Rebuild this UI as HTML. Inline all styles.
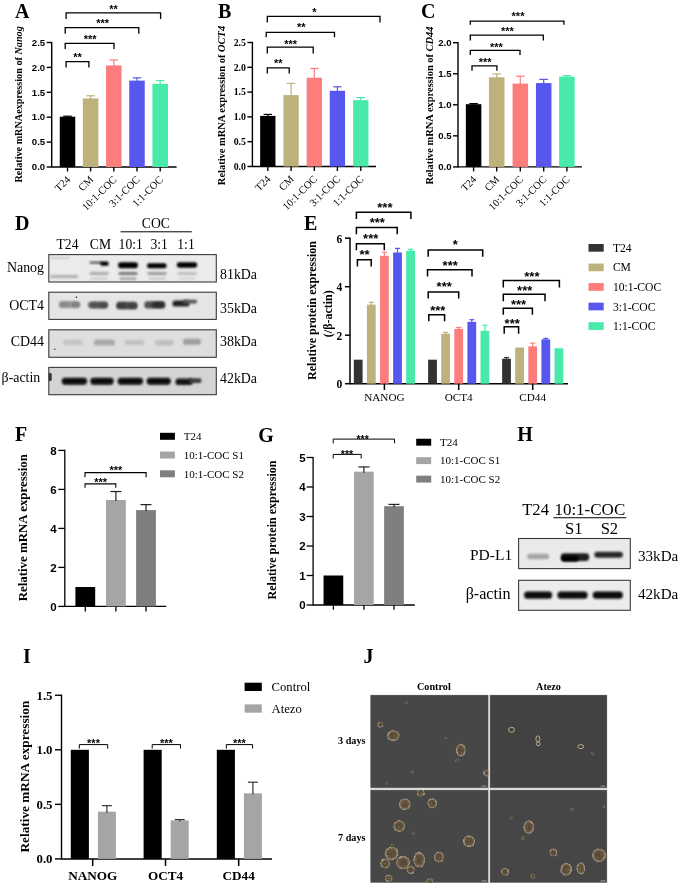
<!DOCTYPE html>
<html><head><meta charset="utf-8"><style>
html,body{margin:0;padding:0;background:#fff;}
body{width:685px;height:889px;overflow:hidden;font-family:"Liberation Sans", sans-serif;}
svg{display:block;filter:blur(0.4px);}
</style></head><body>
<svg width="685" height="889" viewBox="0 0 685 889">
<defs>
<filter id="b1" x="-50%" y="-50%" width="200%" height="200%"><feGaussianBlur stdDeviation="1.2"/></filter>
<filter id="b2" x="-50%" y="-50%" width="200%" height="200%"><feGaussianBlur stdDeviation="2"/></filter>
<filter id="b05" x="-50%" y="-50%" width="200%" height="200%"><feGaussianBlur stdDeviation="0.6"/></filter>
<filter id="b08" x="-50%" y="-50%" width="200%" height="200%"><feGaussianBlur stdDeviation="0.9"/></filter>
<radialGradient id="cell" cx="50%" cy="50%" r="50%"><stop offset="0" stop-color="#584937"/><stop offset="0.55" stop-color="#61513b"/><stop offset="0.8" stop-color="#75664f"/><stop offset="0.92" stop-color="#9a917e"/><stop offset="1" stop-color="#7a7468" stop-opacity="0.2"/></radialGradient>
</defs>
<rect x="0.00" y="0.00" width="685.00" height="889.00" fill="#fff" />
<line x1="51.70" y1="41.90" x2="51.70" y2="167.60" stroke="#000" stroke-width="1.4"/>
<line x1="46.70" y1="167.00" x2="51.70" y2="167.00" stroke="#000" stroke-width="1.4"/>
<text x="45.20" y="170.20" font-family='"Liberation Sans", sans-serif' font-size="9.6" font-weight="bold" text-anchor="end" fill="#000"  style="">0.0</text>
<line x1="46.70" y1="142.10" x2="51.70" y2="142.10" stroke="#000" stroke-width="1.4"/>
<text x="45.20" y="145.30" font-family='"Liberation Sans", sans-serif' font-size="9.6" font-weight="bold" text-anchor="end" fill="#000"  style="">0.5</text>
<line x1="46.70" y1="117.20" x2="51.70" y2="117.20" stroke="#000" stroke-width="1.4"/>
<text x="45.20" y="120.40" font-family='"Liberation Sans", sans-serif' font-size="9.6" font-weight="bold" text-anchor="end" fill="#000"  style="">1.0</text>
<line x1="46.70" y1="92.30" x2="51.70" y2="92.30" stroke="#000" stroke-width="1.4"/>
<text x="45.20" y="95.50" font-family='"Liberation Sans", sans-serif' font-size="9.6" font-weight="bold" text-anchor="end" fill="#000"  style="">1.5</text>
<line x1="46.70" y1="67.40" x2="51.70" y2="67.40" stroke="#000" stroke-width="1.4"/>
<text x="45.20" y="70.60" font-family='"Liberation Sans", sans-serif' font-size="9.6" font-weight="bold" text-anchor="end" fill="#000"  style="">2.0</text>
<line x1="46.70" y1="42.50" x2="51.70" y2="42.50" stroke="#000" stroke-width="1.4"/>
<text x="45.20" y="45.70" font-family='"Liberation Sans", sans-serif' font-size="9.6" font-weight="bold" text-anchor="end" fill="#000"  style="">2.5</text>
<line x1="51.70" y1="167.00" x2="176.60" y2="167.00" stroke="#000" stroke-width="1.4"/>
<rect x="59.75" y="116.70" width="15.50" height="50.30" fill="#000" />
<line x1="67.50" y1="116.20" x2="67.50" y2="117.70" stroke="#000" stroke-width="1.2"/>
<line x1="63.24" y1="116.20" x2="71.76" y2="116.20" stroke="#000" stroke-width="1.2"/>
<line x1="67.50" y1="167.00" x2="67.50" y2="171.50" stroke="#000" stroke-width="1.4"/>
<rect x="82.85" y="98.43" width="15.50" height="68.57" fill="#bdb27b" />
<line x1="90.60" y1="95.79" x2="90.60" y2="99.43" stroke="#bdb27b" stroke-width="1.2"/>
<line x1="86.34" y1="95.79" x2="94.86" y2="95.79" stroke="#bdb27b" stroke-width="1.2"/>
<line x1="90.60" y1="167.00" x2="90.60" y2="171.50" stroke="#000" stroke-width="1.4"/>
<rect x="106.05" y="65.41" width="15.50" height="101.59" fill="#fd7d7d" />
<line x1="113.80" y1="59.93" x2="113.80" y2="66.41" stroke="#fd7d7d" stroke-width="1.2"/>
<line x1="109.54" y1="59.93" x2="118.06" y2="59.93" stroke="#fd7d7d" stroke-width="1.2"/>
<line x1="113.80" y1="167.00" x2="113.80" y2="171.50" stroke="#000" stroke-width="1.4"/>
<rect x="129.25" y="80.60" width="15.50" height="86.40" fill="#5757f0" />
<line x1="137.00" y1="77.86" x2="137.00" y2="81.60" stroke="#5757f0" stroke-width="1.2"/>
<line x1="132.74" y1="77.86" x2="141.26" y2="77.86" stroke="#5757f0" stroke-width="1.2"/>
<line x1="137.00" y1="167.00" x2="137.00" y2="171.50" stroke="#000" stroke-width="1.4"/>
<rect x="152.45" y="83.83" width="15.50" height="83.17" fill="#47eaa9" />
<line x1="160.20" y1="80.60" x2="160.20" y2="84.83" stroke="#47eaa9" stroke-width="1.2"/>
<line x1="155.94" y1="80.60" x2="164.46" y2="80.60" stroke="#47eaa9" stroke-width="1.2"/>
<line x1="160.20" y1="167.00" x2="160.20" y2="171.50" stroke="#000" stroke-width="1.4"/>
<text x="71.00" y="180.20" font-family='"Liberation Serif", serif' font-size="10.5" text-anchor="end" transform="rotate(-45 71.00 180.20)">T24</text>
<text x="94.10" y="180.20" font-family='"Liberation Serif", serif' font-size="10.5" text-anchor="end" transform="rotate(-45 94.10 180.20)">CM</text>
<text x="117.30" y="180.20" font-family='"Liberation Serif", serif' font-size="10.5" text-anchor="end" transform="rotate(-45 117.30 180.20)">10:1-COC</text>
<text x="140.50" y="180.20" font-family='"Liberation Serif", serif' font-size="10.5" text-anchor="end" transform="rotate(-45 140.50 180.20)">3:1-COC</text>
<text x="163.70" y="180.20" font-family='"Liberation Serif", serif' font-size="10.5" text-anchor="end" transform="rotate(-45 163.70 180.20)">1:1-COC</text>
<path d="M66.10,19.00 V12.90 H160.60 V19.00" fill="none" stroke="#000" stroke-width="1.3"/>
<text x="113.60" y="12.79" font-family='"Liberation Sans", sans-serif' font-size="11" font-weight="bold" text-anchor="middle" fill="#000"  style="">**</text>
<path d="M65.20,33.80 V27.70 H138.80 V33.80" fill="none" stroke="#000" stroke-width="1.3"/>
<text x="102.60" y="27.39" font-family='"Liberation Sans", sans-serif' font-size="11" font-weight="bold" text-anchor="middle" fill="#000"  style="">***</text>
<path d="M65.20,49.00 V43.30 H114.00 V49.00" fill="none" stroke="#000" stroke-width="1.3"/>
<text x="90.20" y="42.89" font-family='"Liberation Sans", sans-serif' font-size="11" font-weight="bold" text-anchor="middle" fill="#000"  style="">***</text>
<path d="M66.10,67.40 V61.70 H88.90 V67.40" fill="none" stroke="#000" stroke-width="1.3"/>
<text x="77.50" y="61.49" font-family='"Liberation Sans", sans-serif' font-size="11" font-weight="bold" text-anchor="middle" fill="#000"  style="">**</text>
<text x="0" y="0" font-family='"Liberation Serif", serif' font-size="10.2" font-weight="bold" text-anchor="middle" transform="translate(22.10 104.40) rotate(-90)">Relative mRNAexpression of <tspan font-style="italic">Nanog</tspan></text>
<text x="15.00" y="18.00" font-family='"Liberation Serif", serif' font-size="20" font-weight="bold" text-anchor="start" fill="#000"  style="">A</text>
<line x1="252.40" y1="41.90" x2="252.40" y2="167.10" stroke="#000" stroke-width="1.4"/>
<line x1="247.40" y1="166.50" x2="252.40" y2="166.50" stroke="#000" stroke-width="1.4"/>
<text x="245.90" y="169.70" font-family='"Liberation Serif", serif' font-size="9.8" font-weight="bold" text-anchor="end" fill="#000"  style="">0.0</text>
<line x1="247.40" y1="141.70" x2="252.40" y2="141.70" stroke="#000" stroke-width="1.4"/>
<text x="245.90" y="144.90" font-family='"Liberation Serif", serif' font-size="9.8" font-weight="bold" text-anchor="end" fill="#000"  style="">0.5</text>
<line x1="247.40" y1="116.90" x2="252.40" y2="116.90" stroke="#000" stroke-width="1.4"/>
<text x="245.90" y="120.10" font-family='"Liberation Serif", serif' font-size="9.8" font-weight="bold" text-anchor="end" fill="#000"  style="">1.0</text>
<line x1="247.40" y1="92.10" x2="252.40" y2="92.10" stroke="#000" stroke-width="1.4"/>
<text x="245.90" y="95.30" font-family='"Liberation Serif", serif' font-size="9.8" font-weight="bold" text-anchor="end" fill="#000"  style="">1.5</text>
<line x1="247.40" y1="67.30" x2="252.40" y2="67.30" stroke="#000" stroke-width="1.4"/>
<text x="245.90" y="70.50" font-family='"Liberation Serif", serif' font-size="9.8" font-weight="bold" text-anchor="end" fill="#000"  style="">2.0</text>
<line x1="247.40" y1="42.50" x2="252.40" y2="42.50" stroke="#000" stroke-width="1.4"/>
<text x="245.90" y="45.70" font-family='"Liberation Serif", serif' font-size="9.8" font-weight="bold" text-anchor="end" fill="#000"  style="">2.5</text>
<line x1="252.40" y1="166.50" x2="376.00" y2="166.50" stroke="#000" stroke-width="1.4"/>
<rect x="260.15" y="115.91" width="15.30" height="50.59" fill="#000" />
<line x1="267.80" y1="114.42" x2="267.80" y2="116.91" stroke="#000" stroke-width="1.2"/>
<line x1="263.59" y1="114.42" x2="272.01" y2="114.42" stroke="#000" stroke-width="1.2"/>
<line x1="267.80" y1="166.50" x2="267.80" y2="171.00" stroke="#000" stroke-width="1.4"/>
<rect x="283.45" y="95.08" width="15.30" height="71.42" fill="#bdb27b" />
<line x1="291.10" y1="83.42" x2="291.10" y2="96.08" stroke="#bdb27b" stroke-width="1.2"/>
<line x1="286.89" y1="83.42" x2="295.31" y2="83.42" stroke="#bdb27b" stroke-width="1.2"/>
<line x1="291.10" y1="166.50" x2="291.10" y2="171.00" stroke="#000" stroke-width="1.4"/>
<rect x="306.65" y="77.72" width="15.30" height="88.78" fill="#fd7d7d" />
<line x1="314.30" y1="68.49" x2="314.30" y2="78.72" stroke="#fd7d7d" stroke-width="1.2"/>
<line x1="310.09" y1="68.49" x2="318.51" y2="68.49" stroke="#fd7d7d" stroke-width="1.2"/>
<line x1="314.30" y1="166.50" x2="314.30" y2="171.00" stroke="#000" stroke-width="1.4"/>
<rect x="329.75" y="90.81" width="15.30" height="75.69" fill="#5757f0" />
<line x1="337.40" y1="86.79" x2="337.40" y2="91.81" stroke="#5757f0" stroke-width="1.2"/>
<line x1="333.19" y1="86.79" x2="341.61" y2="86.79" stroke="#5757f0" stroke-width="1.2"/>
<line x1="337.40" y1="166.50" x2="337.40" y2="171.00" stroke="#000" stroke-width="1.4"/>
<rect x="353.15" y="100.18" width="15.30" height="66.32" fill="#47eaa9" />
<line x1="360.80" y1="97.61" x2="360.80" y2="101.18" stroke="#47eaa9" stroke-width="1.2"/>
<line x1="356.59" y1="97.61" x2="365.01" y2="97.61" stroke="#47eaa9" stroke-width="1.2"/>
<line x1="360.80" y1="166.50" x2="360.80" y2="171.00" stroke="#000" stroke-width="1.4"/>
<text x="271.30" y="179.70" font-family='"Liberation Serif", serif' font-size="10.5" text-anchor="end" transform="rotate(-45 271.30 179.70)">T24</text>
<text x="294.60" y="179.70" font-family='"Liberation Serif", serif' font-size="10.5" text-anchor="end" transform="rotate(-45 294.60 179.70)">CM</text>
<text x="317.80" y="179.70" font-family='"Liberation Serif", serif' font-size="10.5" text-anchor="end" transform="rotate(-45 317.80 179.70)">10:1-COC</text>
<text x="340.90" y="179.70" font-family='"Liberation Serif", serif' font-size="10.5" text-anchor="end" transform="rotate(-45 340.90 179.70)">3:1-COC</text>
<text x="364.30" y="179.70" font-family='"Liberation Serif", serif' font-size="10.5" text-anchor="end" transform="rotate(-45 364.30 179.70)">1:1-COC</text>
<path d="M267.30,22.40 V16.40 H380.00 V22.40" fill="none" stroke="#000" stroke-width="1.3"/>
<text x="314.30" y="16.39" font-family='"Liberation Sans", sans-serif' font-size="11" font-weight="bold" text-anchor="middle" fill="#000"  style="">*</text>
<path d="M266.20,37.20 V32.40 H334.50 V37.20" fill="none" stroke="#000" stroke-width="1.3"/>
<text x="301.20" y="31.19" font-family='"Liberation Sans", sans-serif' font-size="11" font-weight="bold" text-anchor="middle" fill="#000"  style="">**</text>
<path d="M267.30,53.60 V47.10 H313.20 V53.60" fill="none" stroke="#000" stroke-width="1.3"/>
<text x="290.70" y="47.69" font-family='"Liberation Sans", sans-serif' font-size="11" font-weight="bold" text-anchor="middle" fill="#000"  style="">***</text>
<path d="M267.30,73.40 V67.90 H289.20 V73.40" fill="none" stroke="#000" stroke-width="1.3"/>
<text x="278.20" y="67.39" font-family='"Liberation Sans", sans-serif' font-size="11" font-weight="bold" text-anchor="middle" fill="#000"  style="">**</text>
<text x="0" y="0" font-family='"Liberation Serif", serif' font-size="10.45" font-weight="bold" text-anchor="middle" transform="translate(224.80 105.50) rotate(-90)">Relative mRNA expression of <tspan font-style="italic">OCT4</tspan></text>
<text x="218.00" y="17.70" font-family='"Liberation Serif", serif' font-size="20" font-weight="bold" text-anchor="start" fill="#000"  style="">B</text>
<line x1="458.00" y1="42.10" x2="458.00" y2="167.50" stroke="#000" stroke-width="1.4"/>
<line x1="453.00" y1="166.90" x2="458.00" y2="166.90" stroke="#000" stroke-width="1.4"/>
<text x="451.50" y="170.10" font-family='"Liberation Sans", sans-serif' font-size="9.6" font-weight="bold" text-anchor="end" fill="#000"  style="">0.0</text>
<line x1="453.00" y1="135.85" x2="458.00" y2="135.85" stroke="#000" stroke-width="1.4"/>
<text x="451.50" y="139.05" font-family='"Liberation Sans", sans-serif' font-size="9.6" font-weight="bold" text-anchor="end" fill="#000"  style="">0.5</text>
<line x1="453.00" y1="104.80" x2="458.00" y2="104.80" stroke="#000" stroke-width="1.4"/>
<text x="451.50" y="108.00" font-family='"Liberation Sans", sans-serif' font-size="9.6" font-weight="bold" text-anchor="end" fill="#000"  style="">1.0</text>
<line x1="453.00" y1="73.75" x2="458.00" y2="73.75" stroke="#000" stroke-width="1.4"/>
<text x="451.50" y="76.95" font-family='"Liberation Sans", sans-serif' font-size="9.6" font-weight="bold" text-anchor="end" fill="#000"  style="">1.5</text>
<line x1="453.00" y1="42.70" x2="458.00" y2="42.70" stroke="#000" stroke-width="1.4"/>
<text x="451.50" y="45.90" font-family='"Liberation Sans", sans-serif' font-size="9.6" font-weight="bold" text-anchor="end" fill="#000"  style="">2.0</text>
<line x1="458.00" y1="166.90" x2="582.00" y2="166.90" stroke="#000" stroke-width="1.4"/>
<rect x="465.85" y="104.18" width="15.50" height="62.72" fill="#000" />
<line x1="473.60" y1="103.56" x2="473.60" y2="105.18" stroke="#000" stroke-width="1.2"/>
<line x1="469.34" y1="103.56" x2="477.86" y2="103.56" stroke="#000" stroke-width="1.2"/>
<line x1="473.60" y1="166.90" x2="473.60" y2="171.40" stroke="#000" stroke-width="1.4"/>
<rect x="488.95" y="77.29" width="15.50" height="89.61" fill="#bdb27b" />
<line x1="496.70" y1="74.00" x2="496.70" y2="78.29" stroke="#bdb27b" stroke-width="1.2"/>
<line x1="492.44" y1="74.00" x2="500.96" y2="74.00" stroke="#bdb27b" stroke-width="1.2"/>
<line x1="496.70" y1="166.90" x2="496.70" y2="171.40" stroke="#000" stroke-width="1.4"/>
<rect x="512.55" y="83.62" width="15.50" height="83.28" fill="#fd7d7d" />
<line x1="520.30" y1="76.23" x2="520.30" y2="84.62" stroke="#fd7d7d" stroke-width="1.2"/>
<line x1="516.04" y1="76.23" x2="524.56" y2="76.23" stroke="#fd7d7d" stroke-width="1.2"/>
<line x1="520.30" y1="166.90" x2="520.30" y2="171.40" stroke="#000" stroke-width="1.4"/>
<rect x="535.95" y="83.06" width="15.50" height="83.84" fill="#5757f0" />
<line x1="543.70" y1="79.40" x2="543.70" y2="84.06" stroke="#5757f0" stroke-width="1.2"/>
<line x1="539.44" y1="79.40" x2="547.96" y2="79.40" stroke="#5757f0" stroke-width="1.2"/>
<line x1="543.70" y1="166.90" x2="543.70" y2="171.40" stroke="#000" stroke-width="1.4"/>
<rect x="559.15" y="76.61" width="15.50" height="90.29" fill="#47eaa9" />
<line x1="566.90" y1="75.68" x2="566.90" y2="77.61" stroke="#47eaa9" stroke-width="1.2"/>
<line x1="562.64" y1="75.68" x2="571.16" y2="75.68" stroke="#47eaa9" stroke-width="1.2"/>
<line x1="566.90" y1="166.90" x2="566.90" y2="171.40" stroke="#000" stroke-width="1.4"/>
<text x="477.10" y="180.10" font-family='"Liberation Serif", serif' font-size="10.5" text-anchor="end" transform="rotate(-45 477.10 180.10)">T24</text>
<text x="500.20" y="180.10" font-family='"Liberation Serif", serif' font-size="10.5" text-anchor="end" transform="rotate(-45 500.20 180.10)">CM</text>
<text x="523.80" y="180.10" font-family='"Liberation Serif", serif' font-size="10.5" text-anchor="end" transform="rotate(-45 523.80 180.10)">10:1-COC</text>
<text x="547.20" y="180.10" font-family='"Liberation Serif", serif' font-size="10.5" text-anchor="end" transform="rotate(-45 547.20 180.10)">3:1-COC</text>
<text x="570.40" y="180.10" font-family='"Liberation Serif", serif' font-size="10.5" text-anchor="end" transform="rotate(-45 570.40 180.10)">1:1-COC</text>
<path d="M470.30,24.80 V21.10 H563.90 V24.80" fill="none" stroke="#000" stroke-width="1.3"/>
<text x="518.00" y="20.19" font-family='"Liberation Sans", sans-serif' font-size="11" font-weight="bold" text-anchor="middle" fill="#000"  style="">***</text>
<path d="M470.30,40.50 V35.20 H543.30 V40.50" fill="none" stroke="#000" stroke-width="1.3"/>
<text x="507.30" y="34.99" font-family='"Liberation Sans", sans-serif' font-size="11" font-weight="bold" text-anchor="middle" fill="#000"  style="">***</text>
<path d="M470.30,55.10 V50.40 H520.00 V55.10" fill="none" stroke="#000" stroke-width="1.3"/>
<text x="496.40" y="50.69" font-family='"Liberation Sans", sans-serif' font-size="11" font-weight="bold" text-anchor="middle" fill="#000"  style="">***</text>
<path d="M472.00,70.70 V65.80 H496.90 V70.70" fill="none" stroke="#000" stroke-width="1.3"/>
<text x="485.20" y="66.09" font-family='"Liberation Sans", sans-serif' font-size="11" font-weight="bold" text-anchor="middle" fill="#000"  style="">***</text>
<text x="0" y="0" font-family='"Liberation Serif", serif' font-size="10.45" font-weight="bold" text-anchor="middle" transform="translate(432.60 105.50) rotate(-90)">Relative mRNA expression of <tspan font-style="italic">CD44</tspan></text>
<text x="421.00" y="18.00" font-family='"Liberation Serif", serif' font-size="20" font-weight="bold" text-anchor="start" fill="#000"  style="">C</text>
<text x="14.90" y="230.20" font-family='"Liberation Serif", serif' font-size="20" font-weight="bold" text-anchor="start" fill="#000"  style="">D</text>
<text x="67.50" y="248.60" font-family='"Liberation Serif", serif' font-size="13.6" font-weight="normal" text-anchor="middle" fill="#000"  style="">T24</text>
<text x="100.40" y="248.60" font-family='"Liberation Serif", serif' font-size="13.6" font-weight="normal" text-anchor="middle" fill="#000"  style="">CM</text>
<text x="130.70" y="248.60" font-family='"Liberation Serif", serif' font-size="13.6" font-weight="normal" text-anchor="middle" fill="#000"  style="">10:1</text>
<text x="159.20" y="248.60" font-family='"Liberation Serif", serif' font-size="13.6" font-weight="normal" text-anchor="middle" fill="#000"  style="">3:1</text>
<text x="186.00" y="248.60" font-family='"Liberation Serif", serif' font-size="13.6" font-weight="normal" text-anchor="middle" fill="#000"  style="">1:1</text>
<text x="155.80" y="228.30" font-family='"Liberation Serif", serif' font-size="13.6" font-weight="normal" text-anchor="middle" fill="#000"  style="">COC</text>
<line x1="120.60" y1="231.80" x2="191.80" y2="231.80" stroke="#000" stroke-width="1.0"/>
<rect x="48.80" y="254.60" width="167.50" height="27.40" fill="#ebebeb" stroke="#3a3a3a" stroke-width="1.1"/>
<rect x="48.80" y="292.20" width="167.50" height="27.20" fill="#e5e5e5" stroke="#3a3a3a" stroke-width="1.1"/>
<rect x="48.80" y="329.80" width="167.50" height="27.50" fill="#dedede" stroke="#3a3a3a" stroke-width="1.1"/>
<rect x="48.80" y="367.40" width="167.50" height="27.30" fill="#d4d4d4" stroke="#3a3a3a" stroke-width="1.1"/>
<clipPath id="cD1"><rect x="49.4" y="255.2" width="166.3" height="26.2"/></clipPath>
<g clip-path="url(#cD1)">
<rect x="89.50" y="261.60" width="13.00" height="2.20" rx="0.99" fill="#555" opacity="1" filter="url(#b08)"/>
<rect x="100.20" y="261.50" width="8.60" height="4.20" rx="1.89" fill="#050505" opacity="1" filter="url(#b08)"/>
<rect x="118.10" y="262.30" width="19.80" height="6.00" rx="2.70" fill="#000" opacity="1" filter="url(#b08)"/>
<rect x="147.00" y="263.20" width="19.60" height="5.00" rx="2.25" fill="#000" opacity="1" filter="url(#b08)"/>
<rect x="176.80" y="262.30" width="20.40" height="5.40" rx="2.43" fill="#000" opacity="1" filter="url(#b08)"/>
<rect x="89.50" y="272.00" width="19.00" height="3.00" rx="1.35" fill="#a8a8a8" opacity="1" filter="url(#b1)"/>
<rect x="118.50" y="272.00" width="19.00" height="3.00" rx="1.35" fill="#787878" opacity="1" filter="url(#b1)"/>
<rect x="147.50" y="272.00" width="19.00" height="3.00" rx="1.35" fill="#999" opacity="1" filter="url(#b1)"/>
<rect x="177.50" y="272.00" width="19.00" height="3.00" rx="1.35" fill="#bbb" opacity="1" filter="url(#b1)"/>
<rect x="90.50" y="277.40" width="17.00" height="2.60" rx="1.17" fill="#cdcdcd" opacity="1" filter="url(#b1)"/>
<rect x="119.50" y="277.40" width="17.00" height="2.60" rx="1.17" fill="#a2a2a2" opacity="1" filter="url(#b1)"/>
<rect x="148.50" y="277.40" width="17.00" height="2.60" rx="1.17" fill="#c8c8c8" opacity="1" filter="url(#b1)"/>
<rect x="178.50" y="277.40" width="17.00" height="2.60" rx="1.17" fill="#d6d6d6" opacity="1" filter="url(#b1)"/>
<rect x="50.00" y="275.00" width="28.00" height="3.00" rx="1.35" fill="#888" opacity="0.6" filter="url(#b1)"/>
<rect x="50.00" y="257.00" width="20.00" height="2.00" rx="0.90" fill="#aaa" opacity="0.5" filter="url(#b1)"/>
</g>
<rect x="58.80" y="301.20" width="21.00" height="6.80" rx="3.06" fill="#9a9a9a" opacity="1" filter="url(#b1)"/>
<rect x="60.00" y="302.00" width="9.00" height="4.80" rx="2.16" fill="#888" opacity="1" filter="url(#b1)"/>
<rect x="71.00" y="302.00" width="9.00" height="5.20" rx="2.34" fill="#808080" opacity="1" filter="url(#b1)"/>
<rect x="88.00" y="301.40" width="20.00" height="7.20" rx="3.24" fill="#6a6a6a" opacity="1" filter="url(#b1)"/>
<rect x="90.50" y="302.40" width="9.00" height="5.20" rx="2.34" fill="#505050" opacity="1" filter="url(#b1)"/>
<rect x="98.50" y="302.60" width="9.00" height="5.20" rx="2.34" fill="#4a4a4a" opacity="1" filter="url(#b1)"/>
<rect x="116.30" y="301.70" width="21.00" height="7.60" rx="3.42" fill="#5a5a5a" opacity="1" filter="url(#b1)"/>
<rect x="117.00" y="302.70" width="10.00" height="5.60" rx="2.52" fill="#3a3a3a" opacity="1" filter="url(#b1)"/>
<rect x="127.00" y="303.00" width="10.00" height="5.60" rx="2.52" fill="#404040" opacity="1" filter="url(#b1)"/>
<rect x="144.30" y="301.20" width="21.00" height="7.20" rx="3.24" fill="#505050" opacity="1" filter="url(#b1)"/>
<rect x="152.00" y="302.00" width="12.00" height="5.60" rx="2.52" fill="#2a2a2a" opacity="1" filter="url(#b1)"/>
<rect x="172.50" y="300.60" width="17.00" height="6.00" rx="2.70" fill="#222" opacity="1" filter="url(#b1)"/>
<rect x="183.00" y="299.80" width="14.00" height="3.60" rx="1.62" fill="#555" opacity="1" filter="url(#b1)"/>
<circle cx="76.4" cy="297.3" r="0.8" fill="#222"/>
<rect x="63.10" y="339.80" width="20.00" height="5.20" rx="2.34" fill="#c4c4c4" opacity="1" filter="url(#b1)"/>
<rect x="93.90" y="339.60" width="21.00" height="6.00" rx="2.70" fill="#a8a8a8" opacity="1" filter="url(#b1)"/>
<rect x="124.40" y="340.00" width="20.00" height="4.80" rx="2.16" fill="#c0c0c0" opacity="1" filter="url(#b1)"/>
<rect x="155.00" y="340.20" width="19.00" height="5.20" rx="2.34" fill="#bdbdbd" opacity="1" filter="url(#b1)"/>
<rect x="182.90" y="338.80" width="18.00" height="6.00" rx="2.70" fill="#9d9d9d" opacity="1" filter="url(#b1)"/>
<circle cx="54.7" cy="349.3" r="0.8" fill="#333"/>
<rect x="61.80" y="377.70" width="25.20" height="7.00" rx="3.15" fill="#080808" opacity="1" filter="url(#b08)"/>
<rect x="90.40" y="377.70" width="23.20" height="7.00" rx="3.15" fill="#080808" opacity="1" filter="url(#b08)"/>
<rect x="117.70" y="377.70" width="25.20" height="7.00" rx="3.15" fill="#080808" opacity="1" filter="url(#b08)"/>
<rect x="146.70" y="377.70" width="24.00" height="7.00" rx="3.15" fill="#080808" opacity="1" filter="url(#b08)"/>
<rect x="175.50" y="378.50" width="17.00" height="6.60" rx="2.97" fill="#181818" opacity="1" filter="url(#b08)"/>
<rect x="188.50" y="378.30" width="13.00" height="4.60" rx="2.07" fill="#3a3a3a" opacity="1" filter="url(#b08)"/>
<rect x="48.70" y="373.00" width="3.00" height="8.00" rx="1.35" fill="#333" opacity="1" filter="url(#b05)"/>
<text x="220.00" y="279.00" font-family='"Liberation Serif", serif' font-size="14.2" font-weight="normal" text-anchor="start" fill="#000" textLength="37" lengthAdjust="spacingAndGlyphs" style="">81kDa</text>
<text x="220.00" y="312.60" font-family='"Liberation Serif", serif' font-size="14.2" font-weight="normal" text-anchor="start" fill="#000" textLength="37" lengthAdjust="spacingAndGlyphs" style="">35kDa</text>
<text x="220.00" y="345.60" font-family='"Liberation Serif", serif' font-size="14.2" font-weight="normal" text-anchor="start" fill="#000" textLength="37" lengthAdjust="spacingAndGlyphs" style="">38kDa</text>
<text x="220.00" y="383.20" font-family='"Liberation Serif", serif' font-size="14.2" font-weight="normal" text-anchor="start" fill="#000" textLength="37" lengthAdjust="spacingAndGlyphs" style="">42kDa</text>
<text x="44.00" y="271.50" font-family='"Liberation Serif", serif' font-size="13.9" font-weight="normal" text-anchor="end" fill="#000"  style="">Nanog</text>
<text x="44.00" y="310.10" font-family='"Liberation Serif", serif' font-size="13.9" font-weight="normal" text-anchor="end" fill="#000"  style="">OCT4</text>
<text x="44.00" y="345.70" font-family='"Liberation Serif", serif' font-size="13.9" font-weight="normal" text-anchor="end" fill="#000"  style="">CD44</text>
<text x="1.60" y="381.80" font-family='"Liberation Serif", serif' font-size="14.2" font-weight="normal" text-anchor="start" fill="#000" textLength="38.6" lengthAdjust="spacingAndGlyphs" style="">β-actin</text>
<text x="304.00" y="230.00" font-family='"Liberation Serif", serif' font-size="20" font-weight="bold" text-anchor="start" fill="#000"  style="">E</text>
<line x1="350.00" y1="237.60" x2="350.00" y2="384.30" stroke="#000" stroke-width="1.5"/>
<line x1="345.00" y1="383.70" x2="350.00" y2="383.70" stroke="#000" stroke-width="1.5"/>
<text x="342.30" y="388.00" font-family='"Liberation Serif", serif' font-size="11.5" font-weight="bold" text-anchor="end" fill="#000"  style="">0</text>
<line x1="345.00" y1="335.20" x2="350.00" y2="335.20" stroke="#000" stroke-width="1.5"/>
<text x="342.30" y="339.50" font-family='"Liberation Serif", serif' font-size="11.5" font-weight="bold" text-anchor="end" fill="#000"  style="">2</text>
<line x1="345.00" y1="286.70" x2="350.00" y2="286.70" stroke="#000" stroke-width="1.5"/>
<text x="342.30" y="291.00" font-family='"Liberation Serif", serif' font-size="11.5" font-weight="bold" text-anchor="end" fill="#000"  style="">4</text>
<line x1="345.00" y1="238.20" x2="350.00" y2="238.20" stroke="#000" stroke-width="1.5"/>
<text x="342.30" y="242.50" font-family='"Liberation Serif", serif' font-size="11.5" font-weight="bold" text-anchor="end" fill="#000"  style="">6</text>
<line x1="350.00" y1="383.70" x2="568.00" y2="383.70" stroke="#000" stroke-width="1.5"/>
<rect x="353.80" y="359.69" width="8.80" height="24.01" fill="#333333" />
<rect x="366.90" y="304.64" width="8.80" height="79.06" fill="#bdb27b" />
<line x1="371.30" y1="302.22" x2="371.30" y2="305.64" stroke="#bdb27b" stroke-width="1.2"/>
<line x1="368.80" y1="302.22" x2="373.80" y2="302.22" stroke="#bdb27b" stroke-width="1.2"/>
<rect x="380.00" y="255.90" width="8.80" height="127.80" fill="#fd7d7d" />
<line x1="384.40" y1="252.26" x2="384.40" y2="256.90" stroke="#fd7d7d" stroke-width="1.2"/>
<line x1="381.90" y1="252.26" x2="386.90" y2="252.26" stroke="#fd7d7d" stroke-width="1.2"/>
<rect x="393.10" y="252.51" width="8.80" height="131.19" fill="#5757f0" />
<line x1="397.50" y1="248.38" x2="397.50" y2="253.51" stroke="#5757f0" stroke-width="1.2"/>
<line x1="395.00" y1="248.38" x2="400.00" y2="248.38" stroke="#5757f0" stroke-width="1.2"/>
<rect x="406.20" y="250.81" width="8.80" height="132.89" fill="#47eaa9" />
<line x1="410.60" y1="249.35" x2="410.60" y2="251.81" stroke="#47eaa9" stroke-width="1.2"/>
<line x1="408.10" y1="249.35" x2="413.10" y2="249.35" stroke="#47eaa9" stroke-width="1.2"/>
<line x1="384.40" y1="383.70" x2="384.40" y2="390.00" stroke="#000" stroke-width="1.5"/>
<rect x="428.10" y="359.69" width="8.80" height="24.01" fill="#333333" />
<rect x="441.20" y="333.75" width="8.80" height="49.95" fill="#bdb27b" />
<line x1="445.60" y1="332.29" x2="445.60" y2="334.75" stroke="#bdb27b" stroke-width="1.2"/>
<line x1="443.10" y1="332.29" x2="448.10" y2="332.29" stroke="#bdb27b" stroke-width="1.2"/>
<rect x="454.30" y="328.89" width="8.80" height="54.81" fill="#fd7d7d" />
<line x1="458.70" y1="327.44" x2="458.70" y2="329.89" stroke="#fd7d7d" stroke-width="1.2"/>
<line x1="456.20" y1="327.44" x2="461.20" y2="327.44" stroke="#fd7d7d" stroke-width="1.2"/>
<rect x="467.40" y="321.86" width="8.80" height="61.84" fill="#5757f0" />
<line x1="471.80" y1="319.68" x2="471.80" y2="322.86" stroke="#5757f0" stroke-width="1.2"/>
<line x1="469.30" y1="319.68" x2="474.30" y2="319.68" stroke="#5757f0" stroke-width="1.2"/>
<rect x="480.50" y="330.83" width="8.80" height="52.87" fill="#47eaa9" />
<line x1="484.90" y1="325.26" x2="484.90" y2="331.83" stroke="#47eaa9" stroke-width="1.2"/>
<line x1="482.40" y1="325.26" x2="487.40" y2="325.26" stroke="#47eaa9" stroke-width="1.2"/>
<line x1="458.70" y1="383.70" x2="458.70" y2="390.00" stroke="#000" stroke-width="1.5"/>
<rect x="502.10" y="358.72" width="8.80" height="24.98" fill="#333333" />
<line x1="506.50" y1="357.51" x2="506.50" y2="359.72" stroke="#333333" stroke-width="1.2"/>
<line x1="504.00" y1="357.51" x2="509.00" y2="357.51" stroke="#333333" stroke-width="1.2"/>
<rect x="515.20" y="347.57" width="8.80" height="36.13" fill="#bdb27b" />
<rect x="528.30" y="346.36" width="8.80" height="37.34" fill="#fd7d7d" />
<line x1="532.70" y1="343.20" x2="532.70" y2="347.36" stroke="#fd7d7d" stroke-width="1.2"/>
<line x1="530.20" y1="343.20" x2="535.20" y2="343.20" stroke="#fd7d7d" stroke-width="1.2"/>
<rect x="541.40" y="339.32" width="8.80" height="44.38" fill="#5757f0" />
<line x1="545.80" y1="338.35" x2="545.80" y2="340.32" stroke="#5757f0" stroke-width="1.2"/>
<line x1="543.30" y1="338.35" x2="548.30" y2="338.35" stroke="#5757f0" stroke-width="1.2"/>
<rect x="554.50" y="348.29" width="8.80" height="35.41" fill="#47eaa9" />
<line x1="532.70" y1="383.70" x2="532.70" y2="390.00" stroke="#000" stroke-width="1.5"/>
<text x="384.40" y="400.80" font-family='"Liberation Serif", serif' font-size="11.2" font-weight="normal" text-anchor="middle" fill="#000"  style="">NANOG</text>
<text x="458.70" y="400.80" font-family='"Liberation Serif", serif' font-size="11.2" font-weight="normal" text-anchor="middle" fill="#000"  style="">OCT4</text>
<text x="532.70" y="400.80" font-family='"Liberation Serif", serif' font-size="11.2" font-weight="normal" text-anchor="middle" fill="#000"  style="">CD44</text>
<text font-family='"Liberation Serif", serif' font-size="12" font-weight="bold" text-anchor="middle" transform="translate(316.3 310.5) rotate(-90)">Relative protein expression</text>
<text font-family='"Liberation Serif", serif' font-size="12" font-weight="bold" text-anchor="middle" transform="translate(331.5 313.7) rotate(-90)">(/β-actin)</text>
<path d="M356.40,219.10 V212.30 H410.90 V219.10" fill="none" stroke="#000" stroke-width="1.5"/>
<text x="384.90" y="211.87" font-family='"Liberation Sans", sans-serif' font-size="13" font-weight="bold" text-anchor="middle" fill="#000"  style="">***</text>
<path d="M356.40,234.30 V227.50 H397.20 V234.30" fill="none" stroke="#000" stroke-width="1.5"/>
<text x="377.30" y="227.07" font-family='"Liberation Sans", sans-serif' font-size="13" font-weight="bold" text-anchor="middle" fill="#000"  style="">***</text>
<path d="M356.40,250.30 V243.70 H384.30 V250.30" fill="none" stroke="#000" stroke-width="1.5"/>
<text x="370.70" y="243.37" font-family='"Liberation Sans", sans-serif' font-size="13" font-weight="bold" text-anchor="middle" fill="#000"  style="">***</text>
<path d="M357.40,266.40 V259.80 H371.20 V266.40" fill="none" stroke="#000" stroke-width="1.5"/>
<text x="364.60" y="259.27" font-family='"Liberation Sans", sans-serif' font-size="13" font-weight="bold" text-anchor="middle" fill="#000"  style="">**</text>
<path d="M428.20,256.70 V249.90 H482.70 V256.70" fill="none" stroke="#000" stroke-width="1.5"/>
<text x="455.30" y="249.07" font-family='"Liberation Sans", sans-serif' font-size="13" font-weight="bold" text-anchor="middle" fill="#000"  style="">*</text>
<path d="M427.50,276.60 V269.80 H472.00 V276.60" fill="none" stroke="#000" stroke-width="1.5"/>
<text x="450.20" y="269.77" font-family='"Liberation Sans", sans-serif' font-size="13" font-weight="bold" text-anchor="middle" fill="#000"  style="">***</text>
<path d="M428.20,298.60 V292.00 H458.70 V298.60" fill="none" stroke="#000" stroke-width="1.5"/>
<text x="444.20" y="291.37" font-family='"Liberation Sans", sans-serif' font-size="13" font-weight="bold" text-anchor="middle" fill="#000"  style="">***</text>
<path d="M428.80,321.30 V314.70 H444.60 V321.30" fill="none" stroke="#000" stroke-width="1.5"/>
<text x="437.80" y="314.87" font-family='"Liberation Sans", sans-serif' font-size="13" font-weight="bold" text-anchor="middle" fill="#000"  style="">***</text>
<path d="M503.30,287.40 V280.50 H559.40 V287.40" fill="none" stroke="#000" stroke-width="1.5"/>
<text x="531.90" y="280.97" font-family='"Liberation Sans", sans-serif' font-size="13" font-weight="bold" text-anchor="middle" fill="#000"  style="">***</text>
<path d="M503.30,301.30 V294.30 H545.00 V301.30" fill="none" stroke="#000" stroke-width="1.5"/>
<text x="524.70" y="295.07" font-family='"Liberation Sans", sans-serif' font-size="13" font-weight="bold" text-anchor="middle" fill="#000"  style="">***</text>
<path d="M503.30,314.80 V308.20 H532.40 V314.80" fill="none" stroke="#000" stroke-width="1.5"/>
<text x="518.60" y="308.97" font-family='"Liberation Sans", sans-serif' font-size="13" font-weight="bold" text-anchor="middle" fill="#000"  style="">***</text>
<path d="M504.20,333.70 V326.80 H518.60 V333.70" fill="none" stroke="#000" stroke-width="1.5"/>
<text x="512.20" y="327.57" font-family='"Liberation Sans", sans-serif' font-size="13" font-weight="bold" text-anchor="middle" fill="#000"  style="">***</text>
<rect x="588.50" y="244.00" width="15.20" height="7.70" fill="#333333" />
<text x="612.90" y="251.90" font-family='"Liberation Serif", serif' font-size="11.6" font-weight="normal" text-anchor="start" fill="#000"  style="">T24</text>
<rect x="588.50" y="263.55" width="15.20" height="7.70" fill="#bdb27b" />
<text x="612.90" y="271.45" font-family='"Liberation Serif", serif' font-size="11.6" font-weight="normal" text-anchor="start" fill="#000"  style="">CM</text>
<rect x="588.50" y="283.10" width="15.20" height="7.70" fill="#fd7d7d" />
<text x="612.90" y="291.00" font-family='"Liberation Serif", serif' font-size="11.6" font-weight="normal" text-anchor="start" fill="#000"  style="">10:1-COC</text>
<rect x="588.50" y="302.65" width="15.20" height="7.70" fill="#5757f0" />
<text x="612.90" y="310.55" font-family='"Liberation Serif", serif' font-size="11.6" font-weight="normal" text-anchor="start" fill="#000"  style="">3:1-COC</text>
<rect x="588.50" y="322.20" width="15.20" height="7.70" fill="#47eaa9" />
<text x="612.90" y="330.10" font-family='"Liberation Serif", serif' font-size="11.6" font-weight="normal" text-anchor="start" fill="#000"  style="">1:1-COC</text>
<text x="15.10" y="441.40" font-family='"Liberation Serif", serif' font-size="20" font-weight="bold" text-anchor="start" fill="#000"  style="">F</text>
<line x1="64.80" y1="449.80" x2="64.80" y2="607.00" stroke="#000" stroke-width="1.3"/>
<line x1="58.30" y1="606.40" x2="64.80" y2="606.40" stroke="#000" stroke-width="1.3"/>
<text x="56.70" y="610.50" font-family='"Liberation Sans", sans-serif' font-size="11.5" font-weight="bold" text-anchor="end" fill="#000"  style="">0</text>
<line x1="58.30" y1="567.40" x2="64.80" y2="567.40" stroke="#000" stroke-width="1.3"/>
<text x="56.70" y="571.50" font-family='"Liberation Sans", sans-serif' font-size="11.5" font-weight="bold" text-anchor="end" fill="#000"  style="">2</text>
<line x1="58.30" y1="528.40" x2="64.80" y2="528.40" stroke="#000" stroke-width="1.3"/>
<text x="56.70" y="532.50" font-family='"Liberation Sans", sans-serif' font-size="11.5" font-weight="bold" text-anchor="end" fill="#000"  style="">4</text>
<line x1="58.30" y1="489.40" x2="64.80" y2="489.40" stroke="#000" stroke-width="1.3"/>
<text x="56.70" y="493.50" font-family='"Liberation Sans", sans-serif' font-size="11.5" font-weight="bold" text-anchor="end" fill="#000"  style="">6</text>
<line x1="58.30" y1="450.40" x2="64.80" y2="450.40" stroke="#000" stroke-width="1.3"/>
<text x="56.70" y="454.50" font-family='"Liberation Sans", sans-serif' font-size="11.5" font-weight="bold" text-anchor="end" fill="#000"  style="">8</text>
<line x1="63.80" y1="606.40" x2="166.20" y2="606.40" stroke="#000" stroke-width="1.3"/>
<rect x="75.40" y="587.00" width="19.80" height="19.40" fill="#000" />
<line x1="85.30" y1="606.40" x2="85.30" y2="611.50" stroke="#000" stroke-width="1.3"/>
<rect x="106.00" y="499.93" width="19.80" height="106.47" fill="#a5a5a7" />
<line x1="115.90" y1="491.54" x2="115.90" y2="500.93" stroke="#222" stroke-width="1.2"/>
<line x1="110.40" y1="491.54" x2="121.40" y2="491.54" stroke="#222" stroke-width="1.2"/>
<line x1="115.90" y1="606.40" x2="115.90" y2="611.50" stroke="#000" stroke-width="1.3"/>
<rect x="136.10" y="510.07" width="19.80" height="96.33" fill="#7f7f80" />
<line x1="146.00" y1="504.61" x2="146.00" y2="511.07" stroke="#222" stroke-width="1.2"/>
<line x1="140.50" y1="504.61" x2="151.50" y2="504.61" stroke="#222" stroke-width="1.2"/>
<line x1="146.00" y1="606.40" x2="146.00" y2="611.50" stroke="#000" stroke-width="1.3"/>
<path d="M85.00,477.20 V472.60 H146.10 V477.20" fill="none" stroke="#000" stroke-width="1.1"/>
<text x="115.80" y="474.29" font-family='"Liberation Sans", sans-serif' font-size="11" font-weight="bold" text-anchor="middle" fill="#000"  style="">***</text>
<path d="M85.00,487.80 V483.90 H115.80 V487.80" fill="none" stroke="#000" stroke-width="1.1"/>
<text x="100.70" y="486.29" font-family='"Liberation Sans", sans-serif' font-size="11" font-weight="bold" text-anchor="middle" fill="#000"  style="">***</text>
<text font-family='"Liberation Serif", serif' font-size="12.9" font-weight="bold" text-anchor="middle" transform="translate(26.8 527.7) rotate(-90)">Relative mRNA expression</text>
<rect x="160.00" y="432.80" width="14.90" height="7.00" fill="#000" />
<text x="183.70" y="440.00" font-family='"Liberation Serif", serif' font-size="11" font-weight="normal" text-anchor="start" fill="#000"  style="">T24</text>
<rect x="160.00" y="451.55" width="14.90" height="7.00" fill="#a5a5a7" />
<text x="183.70" y="458.75" font-family='"Liberation Serif", serif' font-size="11" font-weight="normal" text-anchor="start" fill="#000"  style="">10:1-COC S1</text>
<rect x="160.00" y="470.30" width="14.90" height="7.00" fill="#7f7f80" />
<text x="183.70" y="477.50" font-family='"Liberation Serif", serif' font-size="11" font-weight="normal" text-anchor="start" fill="#000"  style="">10:1-COC S2</text>
<text x="258.30" y="441.60" font-family='"Liberation Serif", serif' font-size="20" font-weight="bold" text-anchor="start" fill="#000"  style="">G</text>
<line x1="313.10" y1="456.90" x2="313.10" y2="605.60" stroke="#000" stroke-width="1.3"/>
<line x1="306.60" y1="605.00" x2="313.10" y2="605.00" stroke="#000" stroke-width="1.3"/>
<text x="305.70" y="609.10" font-family='"Liberation Sans", sans-serif' font-size="11.5" font-weight="bold" text-anchor="end" fill="#000"  style="">0</text>
<line x1="306.60" y1="575.50" x2="313.10" y2="575.50" stroke="#000" stroke-width="1.3"/>
<text x="305.70" y="579.60" font-family='"Liberation Sans", sans-serif' font-size="11.5" font-weight="bold" text-anchor="end" fill="#000"  style="">1</text>
<line x1="306.60" y1="546.00" x2="313.10" y2="546.00" stroke="#000" stroke-width="1.3"/>
<text x="305.70" y="550.10" font-family='"Liberation Sans", sans-serif' font-size="11.5" font-weight="bold" text-anchor="end" fill="#000"  style="">2</text>
<line x1="306.60" y1="516.50" x2="313.10" y2="516.50" stroke="#000" stroke-width="1.3"/>
<text x="305.70" y="520.60" font-family='"Liberation Sans", sans-serif' font-size="11.5" font-weight="bold" text-anchor="end" fill="#000"  style="">3</text>
<line x1="306.60" y1="487.00" x2="313.10" y2="487.00" stroke="#000" stroke-width="1.3"/>
<text x="305.70" y="491.10" font-family='"Liberation Sans", sans-serif' font-size="11.5" font-weight="bold" text-anchor="end" fill="#000"  style="">4</text>
<line x1="306.60" y1="457.50" x2="313.10" y2="457.50" stroke="#000" stroke-width="1.3"/>
<text x="305.70" y="461.60" font-family='"Liberation Sans", sans-serif' font-size="11.5" font-weight="bold" text-anchor="end" fill="#000"  style="">5</text>
<line x1="313.10" y1="605.00" x2="414.80" y2="605.00" stroke="#000" stroke-width="1.3"/>
<rect x="323.55" y="575.50" width="19.70" height="29.50" fill="#000" />
<line x1="333.40" y1="605.00" x2="333.40" y2="609.70" stroke="#000" stroke-width="1.3"/>
<rect x="354.05" y="471.66" width="19.70" height="133.34" fill="#a5a5a7" />
<line x1="363.90" y1="466.94" x2="363.90" y2="472.66" stroke="#222" stroke-width="1.2"/>
<line x1="358.40" y1="466.94" x2="369.40" y2="466.94" stroke="#222" stroke-width="1.2"/>
<line x1="363.90" y1="605.00" x2="363.90" y2="609.70" stroke="#000" stroke-width="1.3"/>
<rect x="384.15" y="506.18" width="19.70" height="98.82" fill="#7f7f80" />
<line x1="394.00" y1="504.40" x2="394.00" y2="507.18" stroke="#222" stroke-width="1.2"/>
<line x1="388.50" y1="504.40" x2="399.50" y2="504.40" stroke="#222" stroke-width="1.2"/>
<line x1="394.00" y1="605.00" x2="394.00" y2="609.70" stroke="#000" stroke-width="1.3"/>
<path d="M333.20,443.30 V439.10 H394.50 V443.30" fill="none" stroke="#000" stroke-width="1.0"/>
<text x="362.60" y="442.59" font-family='"Liberation Sans", sans-serif' font-size="10.5" font-weight="bold" text-anchor="middle" fill="#000"  style="">***</text>
<path d="M333.20,458.50 V454.40 H361.20 V458.50" fill="none" stroke="#000" stroke-width="1.0"/>
<text x="347.00" y="458.39" font-family='"Liberation Sans", sans-serif' font-size="10.5" font-weight="bold" text-anchor="middle" fill="#000"  style="">***</text>
<text font-family='"Liberation Serif", serif' font-size="12" font-weight="bold" text-anchor="middle" transform="translate(275.7 530.0) rotate(-90)">Relative protein expression</text>
<rect x="416.20" y="438.75" width="15.00" height="6.90" fill="#000" />
<text x="440.00" y="446.00" font-family='"Liberation Serif", serif' font-size="11" font-weight="normal" text-anchor="start" fill="#000"  style="">T24</text>
<rect x="416.20" y="457.20" width="15.00" height="6.90" fill="#a5a5a7" />
<text x="440.00" y="464.45" font-family='"Liberation Serif", serif' font-size="11" font-weight="normal" text-anchor="start" fill="#000"  style="">10:1-COC S1</text>
<rect x="416.20" y="475.65" width="15.00" height="6.90" fill="#7f7f80" />
<text x="440.00" y="482.90" font-family='"Liberation Serif", serif' font-size="11" font-weight="normal" text-anchor="start" fill="#000"  style="">10:1-COC S2</text>
<text x="517.30" y="441.40" font-family='"Liberation Serif", serif' font-size="20" font-weight="bold" text-anchor="start" fill="#000"  style="">H</text>
<text x="535.60" y="514.50" font-family='"Liberation Serif", serif' font-size="16.6" font-weight="normal" text-anchor="middle" fill="#000"  style="">T24</text>
<text x="589.80" y="514.50" font-family='"Liberation Serif", serif' font-size="17.0" font-weight="normal" text-anchor="middle" fill="#000"  style="">10:1-COC</text>
<line x1="553.40" y1="517.80" x2="626.30" y2="517.80" stroke="#000" stroke-width="1.1"/>
<text x="573.80" y="533.60" font-family='"Liberation Serif", serif' font-size="16.6" font-weight="normal" text-anchor="middle" fill="#000"  style="">S1</text>
<text x="609.40" y="533.60" font-family='"Liberation Serif", serif' font-size="16.6" font-weight="normal" text-anchor="middle" fill="#000"  style="">S2</text>
<rect x="518.60" y="538.50" width="111.70" height="30.10" fill="#eaeaea" stroke="#3a3a3a" stroke-width="1.1"/>
<rect x="518.60" y="580.30" width="111.70" height="30.00" fill="#ececec" stroke="#3a3a3a" stroke-width="1.1"/>
<rect x="527.10" y="553.70" width="22.00" height="5.60" rx="2.52" fill="#a5a5a5" opacity="1" filter="url(#b1)"/>
<rect x="560.80" y="553.30" width="28.40" height="7.60" rx="3.42" fill="#1a1a1a" opacity="1" filter="url(#b08)"/>
<rect x="561.50" y="555.80" width="17.00" height="5.60" rx="2.52" fill="#000" opacity="1" filter="url(#b08)"/>
<rect x="594.40" y="551.80" width="28.40" height="6.00" rx="2.70" fill="#282828" opacity="1" filter="url(#b08)"/>
<rect x="524.10" y="591.50" width="28.00" height="7.20" rx="3.24" fill="#0d0d0d" opacity="1" filter="url(#b1)"/>
<rect x="557.50" y="591.50" width="30.00" height="7.20" rx="3.24" fill="#0d0d0d" opacity="1" filter="url(#b1)"/>
<rect x="592.80" y="591.50" width="30.00" height="7.20" rx="3.24" fill="#0d0d0d" opacity="1" filter="url(#b1)"/>
<text x="470.00" y="560.20" font-family='"Liberation Serif", serif' font-size="15.5" font-weight="normal" text-anchor="start" fill="#000" textLength="42.2" lengthAdjust="spacingAndGlyphs" style="">PD-L1</text>
<text x="465.70" y="599.20" font-family='"Liberation Serif", serif' font-size="16" font-weight="normal" text-anchor="start" fill="#000" textLength="44.8" lengthAdjust="spacingAndGlyphs" style="">β-actin</text>
<text x="638.00" y="560.80" font-family='"Liberation Serif", serif' font-size="15.1" font-weight="normal" text-anchor="start" fill="#000"  style="">33kDa</text>
<text x="638.00" y="599.30" font-family='"Liberation Serif", serif' font-size="15.1" font-weight="normal" text-anchor="start" fill="#000"  style="">42kDa</text>
<text x="22.90" y="662.50" font-family='"Liberation Serif", serif' font-size="20" font-weight="bold" text-anchor="start" fill="#000"  style="">I</text>
<line x1="61.50" y1="694.65" x2="61.50" y2="859.50" stroke="#000" stroke-width="1.4"/>
<line x1="55.00" y1="858.90" x2="61.50" y2="858.90" stroke="#000" stroke-width="1.4"/>
<text x="52.50" y="863.20" font-family='"Liberation Serif", serif' font-size="12.8" font-weight="bold" text-anchor="end" fill="#000"  style="">0.0</text>
<line x1="55.00" y1="804.35" x2="61.50" y2="804.35" stroke="#000" stroke-width="1.4"/>
<text x="52.50" y="808.65" font-family='"Liberation Serif", serif' font-size="12.8" font-weight="bold" text-anchor="end" fill="#000"  style="">0.5</text>
<line x1="55.00" y1="749.80" x2="61.50" y2="749.80" stroke="#000" stroke-width="1.4"/>
<text x="52.50" y="754.10" font-family='"Liberation Serif", serif' font-size="12.8" font-weight="bold" text-anchor="end" fill="#000"  style="">1.0</text>
<line x1="55.00" y1="695.25" x2="61.50" y2="695.25" stroke="#000" stroke-width="1.4"/>
<text x="52.50" y="699.55" font-family='"Liberation Serif", serif' font-size="12.8" font-weight="bold" text-anchor="end" fill="#000"  style="">1.5</text>
<line x1="61.30" y1="858.90" x2="272.00" y2="858.90" stroke="#000" stroke-width="1.5"/>
<rect x="70.80" y="749.80" width="18.10" height="109.10" fill="#000" />
<rect x="97.90" y="811.66" width="18.00" height="47.24" fill="#a5a5a7" />
<line x1="106.90" y1="805.66" x2="106.90" y2="812.66" stroke="#333" stroke-width="1.2"/>
<line x1="101.90" y1="805.66" x2="111.90" y2="805.66" stroke="#333" stroke-width="1.2"/>
<line x1="92.70" y1="858.90" x2="92.70" y2="866.00" stroke="#000" stroke-width="1.5"/>
<rect x="143.60" y="749.80" width="18.10" height="109.10" fill="#000" />
<rect x="170.70" y="820.39" width="18.00" height="38.51" fill="#a5a5a7" />
<line x1="179.70" y1="819.62" x2="179.70" y2="821.39" stroke="#333" stroke-width="1.2"/>
<line x1="174.70" y1="819.62" x2="184.70" y2="819.62" stroke="#333" stroke-width="1.2"/>
<line x1="165.50" y1="858.90" x2="165.50" y2="866.00" stroke="#000" stroke-width="1.5"/>
<rect x="216.80" y="749.80" width="18.10" height="109.10" fill="#000" />
<rect x="243.90" y="793.33" width="18.00" height="65.57" fill="#a5a5a7" />
<line x1="252.90" y1="782.20" x2="252.90" y2="794.33" stroke="#333" stroke-width="1.2"/>
<line x1="247.90" y1="782.20" x2="257.90" y2="782.20" stroke="#333" stroke-width="1.2"/>
<line x1="238.70" y1="858.90" x2="238.70" y2="866.00" stroke="#000" stroke-width="1.5"/>
<text x="92.70" y="879.60" font-family='"Liberation Serif", serif' font-size="13.2" font-weight="bold" text-anchor="middle" fill="#000"  style="">NANOG</text>
<text x="165.50" y="879.60" font-family='"Liberation Serif", serif' font-size="13.2" font-weight="bold" text-anchor="middle" fill="#000"  style="">OCT4</text>
<text x="238.70" y="879.60" font-family='"Liberation Serif", serif' font-size="13.2" font-weight="bold" text-anchor="middle" fill="#000"  style="">CD44</text>
<path d="M79.30,748.60 V744.60 H107.70 V748.60" fill="none" stroke="#000" stroke-width="1.0"/>
<text x="93.50" y="747.49" font-family='"Liberation Sans", sans-serif' font-size="11" font-weight="bold" text-anchor="middle" fill="#000"  style="">***</text>
<path d="M152.20,748.60 V744.60 H180.50 V748.60" fill="none" stroke="#000" stroke-width="1.0"/>
<text x="166.35" y="747.49" font-family='"Liberation Sans", sans-serif' font-size="11" font-weight="bold" text-anchor="middle" fill="#000"  style="">***</text>
<path d="M226.30,748.60 V744.60 H252.60 V748.60" fill="none" stroke="#000" stroke-width="1.0"/>
<text x="239.45" y="747.49" font-family='"Liberation Sans", sans-serif' font-size="11" font-weight="bold" text-anchor="middle" fill="#000"  style="">***</text>
<text font-family='"Liberation Serif", serif' font-size="13.3" font-weight="bold" text-anchor="middle" transform="translate(29.0 776.6) rotate(-90)">Relative mRNA expression</text>
<rect x="244.60" y="682.70" width="17.20" height="8.30" fill="#000" />
<rect x="244.60" y="704.40" width="17.20" height="8.30" fill="#a5a5a7" />
<text x="271.50" y="691.20" font-family='"Liberation Serif", serif' font-size="12.7" font-weight="normal" text-anchor="start" fill="#000"  style="">Control</text>
<text x="271.50" y="712.90" font-family='"Liberation Serif", serif' font-size="12.7" font-weight="normal" text-anchor="start" fill="#000"  style="">Atezo</text>
<text x="363.40" y="663.40" font-family='"Liberation Serif", serif' font-size="20" font-weight="bold" text-anchor="start" fill="#000"  style="">J</text>
<text x="433.90" y="689.60" font-family='"Liberation Serif", serif' font-size="10.2" font-weight="bold" text-anchor="middle" fill="#000"  style="">Control</text>
<text x="548.50" y="689.60" font-family='"Liberation Serif", serif' font-size="10.2" font-weight="bold" text-anchor="middle" fill="#000"  style="">Atezo</text>
<text x="351.80" y="743.70" font-family='"Liberation Serif", serif' font-size="10.2" font-weight="bold" text-anchor="middle" fill="#000"  style="">3 days</text>
<text x="351.80" y="840.90" font-family='"Liberation Serif", serif' font-size="10.2" font-weight="bold" text-anchor="middle" fill="#000"  style="">7 days</text>
<rect x="370.40" y="694.60" width="237.00" height="188.30" fill="#d8d8d8" />
<rect x="370.50" y="695.10" width="117.70" height="92.70" fill="#474747" />
<clipPath id="q0"><rect x="370.5" y="695.1" width="117.70" height="92.70"/></clipPath>
<rect x="490.10" y="695.10" width="116.80" height="92.70" fill="#424242" />
<clipPath id="q1"><rect x="490.1" y="695.1" width="116.80" height="92.70"/></clipPath>
<rect x="370.50" y="790.10" width="117.70" height="92.50" fill="#474747" />
<clipPath id="q2"><rect x="370.5" y="790.1" width="117.70" height="92.50"/></clipPath>
<rect x="490.10" y="790.10" width="116.80" height="92.50" fill="#464646" />
<clipPath id="q3"><rect x="490.1" y="790.1" width="116.80" height="92.50"/></clipPath>
<rect x="481.70" y="785.60" width="5.00" height="1.00" fill="#9a9a9a" />
<rect x="600.40" y="785.60" width="5.00" height="1.00" fill="#9a9a9a" />
<rect x="481.70" y="880.40" width="5.00" height="1.00" fill="#9a9a9a" />
<rect x="600.40" y="880.40" width="5.00" height="1.00" fill="#9a9a9a" />
<g clip-path="url(#q0)">
<ellipse cx="406.1" cy="702.2" rx="1.5" ry="1.5" fill="url(#cell)"/>
<ellipse cx="380.5" cy="724.7" rx="3" ry="3" fill="url(#cell)"/>
<circle cx="379.48" cy="726.74" r="0.37" fill="#b0a68e"/>
<circle cx="378.12" cy="724.15" r="0.58" fill="#b0a68e"/>
<circle cx="380.99" cy="726.87" r="0.37" fill="#8c8170"/>
<circle cx="382.60" cy="726.04" r="0.59" fill="#b0a68e"/>
<circle cx="378.72" cy="722.79" r="0.49" fill="#b0a68e"/>
<circle cx="378.17" cy="726.47" r="0.49" fill="#b0a68e"/>
<circle cx="382.17" cy="726.55" r="0.49" fill="#b0a68e"/>
<circle cx="378.00" cy="723.70" r="0.50" fill="#b0a68e"/>
<circle cx="378.93" cy="722.82" r="0.49" fill="#b0a68e"/>
<circle cx="378.63" cy="722.97" r="0.54" fill="#8c8170"/>
<circle cx="377.69" cy="725.32" r="0.42" fill="#c0b69c"/>
<circle cx="381.24" cy="722.10" r="0.37" fill="#a39880"/>
<circle cx="379.71" cy="727.12" r="0.53" fill="#c0b69c"/>
<circle cx="380.08" cy="726.41" r="0.55" fill="#4e4434"/>
<circle cx="380.81" cy="725.23" r="0.53" fill="#7b6b50"/>
<circle cx="380.64" cy="724.67" r="0.57" fill="#55493a"/>
<circle cx="380.90" cy="724.30" r="0.51" fill="#55493a"/>
<circle cx="379.07" cy="724.73" r="0.65" fill="#4e4434"/>
<circle cx="381.30" cy="724.41" r="0.42" fill="#55493a"/>
<ellipse cx="393.3" cy="735.6" rx="6.5" ry="5.5" fill="url(#cell)"/>
<circle cx="392.69" cy="731.23" r="0.42" fill="#8c8170"/>
<circle cx="388.92" cy="738.83" r="0.59" fill="#b0a68e"/>
<circle cx="389.79" cy="739.41" r="0.36" fill="#8c8170"/>
<circle cx="393.86" cy="731.48" r="0.45" fill="#a39880"/>
<circle cx="398.08" cy="733.27" r="0.46" fill="#a39880"/>
<circle cx="387.42" cy="734.00" r="0.57" fill="#8c8170"/>
<circle cx="392.34" cy="740.08" r="0.52" fill="#c0b69c"/>
<circle cx="389.59" cy="738.53" r="0.39" fill="#b0a68e"/>
<circle cx="393.87" cy="739.87" r="0.56" fill="#8c8170"/>
<circle cx="395.43" cy="739.57" r="0.45" fill="#a39880"/>
<circle cx="389.46" cy="739.09" r="0.52" fill="#a39880"/>
<circle cx="387.60" cy="735.13" r="0.46" fill="#b0a68e"/>
<circle cx="397.63" cy="731.74" r="0.45" fill="#8c8170"/>
<circle cx="388.98" cy="738.47" r="0.37" fill="#8c8170"/>
<circle cx="397.89" cy="737.35" r="0.38" fill="#a39880"/>
<circle cx="389.39" cy="733.17" r="0.48" fill="#a39880"/>
<circle cx="398.73" cy="734.07" r="0.57" fill="#b0a68e"/>
<circle cx="389.58" cy="732.86" r="0.59" fill="#c0b69c"/>
<circle cx="388.91" cy="732.82" r="0.56" fill="#b0a68e"/>
<circle cx="398.76" cy="735.40" r="0.43" fill="#8c8170"/>
<circle cx="396.97" cy="739.56" r="0.47" fill="#c0b69c"/>
<circle cx="391.32" cy="731.21" r="0.59" fill="#a39880"/>
<circle cx="388.45" cy="734.86" r="0.54" fill="#b0a68e"/>
<circle cx="391.58" cy="740.26" r="0.52" fill="#b0a68e"/>
<circle cx="392.93" cy="740.07" r="0.44" fill="#a39880"/>
<circle cx="394.25" cy="740.27" r="0.51" fill="#c0b69c"/>
<circle cx="390.97" cy="733.90" r="0.64" fill="#4e4434"/>
<circle cx="394.50" cy="733.38" r="0.46" fill="#4e4434"/>
<circle cx="390.45" cy="735.71" r="0.64" fill="#4e4434"/>
<circle cx="392.56" cy="735.71" r="0.69" fill="#55493a"/>
<circle cx="389.84" cy="736.61" r="0.69" fill="#7b6b50"/>
<circle cx="392.73" cy="736.15" r="0.54" fill="#4e4434"/>
<circle cx="392.31" cy="736.96" r="0.65" fill="#55493a"/>
<circle cx="390.77" cy="735.88" r="0.43" fill="#55493a"/>
<circle cx="391.41" cy="733.06" r="0.63" fill="#55493a"/>
<circle cx="392.61" cy="735.68" r="0.50" fill="#55493a"/>
<circle cx="394.49" cy="732.56" r="0.54" fill="#7b6b50"/>
<circle cx="393.29" cy="735.32" r="0.45" fill="#4e4434"/>
<circle cx="393.71" cy="735.96" r="0.64" fill="#7b6b50"/>
<ellipse cx="445.3" cy="738" rx="1.5" ry="1.5" fill="url(#cell)"/>
<ellipse cx="460.8" cy="750.2" rx="5" ry="6.5" fill="url(#cell)"/>
<circle cx="463.64" cy="755.03" r="0.51" fill="#8c8170"/>
<circle cx="458.26" cy="754.73" r="0.36" fill="#a39880"/>
<circle cx="462.19" cy="744.57" r="0.48" fill="#b0a68e"/>
<circle cx="464.61" cy="748.01" r="0.56" fill="#a39880"/>
<circle cx="461.75" cy="755.15" r="0.48" fill="#c0b69c"/>
<circle cx="461.15" cy="744.99" r="0.56" fill="#8c8170"/>
<circle cx="465.03" cy="752.41" r="0.52" fill="#8c8170"/>
<circle cx="462.50" cy="745.10" r="0.48" fill="#a39880"/>
<circle cx="457.22" cy="749.51" r="0.54" fill="#8c8170"/>
<circle cx="457.22" cy="746.42" r="0.39" fill="#a39880"/>
<circle cx="456.32" cy="751.18" r="0.43" fill="#b0a68e"/>
<circle cx="456.51" cy="749.55" r="0.57" fill="#b0a68e"/>
<circle cx="464.41" cy="751.95" r="0.54" fill="#b0a68e"/>
<circle cx="456.47" cy="749.93" r="0.46" fill="#b0a68e"/>
<circle cx="457.56" cy="746.60" r="0.52" fill="#a39880"/>
<circle cx="456.70" cy="751.85" r="0.48" fill="#8c8170"/>
<circle cx="460.86" cy="755.76" r="0.58" fill="#c0b69c"/>
<circle cx="463.82" cy="747.07" r="0.38" fill="#8c8170"/>
<circle cx="463.81" cy="753.96" r="0.52" fill="#b0a68e"/>
<circle cx="457.31" cy="752.39" r="0.55" fill="#c0b69c"/>
<circle cx="463.83" cy="747.22" r="0.39" fill="#c0b69c"/>
<circle cx="464.40" cy="745.96" r="0.54" fill="#a39880"/>
<circle cx="464.74" cy="753.64" r="0.60" fill="#a39880"/>
<circle cx="462.69" cy="745.90" r="0.60" fill="#8c8170"/>
<circle cx="457.39" cy="753.26" r="0.43" fill="#c0b69c"/>
<circle cx="460.79" cy="750.13" r="0.54" fill="#55493a"/>
<circle cx="460.47" cy="748.77" r="0.59" fill="#55493a"/>
<circle cx="460.61" cy="750.18" r="0.69" fill="#4e4434"/>
<circle cx="461.43" cy="750.83" r="0.67" fill="#4e4434"/>
<circle cx="461.75" cy="752.88" r="0.65" fill="#7b6b50"/>
<circle cx="459.53" cy="746.90" r="0.44" fill="#7b6b50"/>
<circle cx="462.30" cy="749.12" r="0.50" fill="#55493a"/>
<circle cx="460.36" cy="753.27" r="0.53" fill="#4e4434"/>
<circle cx="463.33" cy="751.81" r="0.43" fill="#55493a"/>
<circle cx="460.68" cy="752.57" r="0.42" fill="#4e4434"/>
<circle cx="461.69" cy="748.86" r="0.70" fill="#7b6b50"/>
<circle cx="458.41" cy="751.96" r="0.44" fill="#55493a"/>
<ellipse cx="457.2" cy="760.6" rx="2" ry="2" fill="url(#cell)"/>
<ellipse cx="412.1" cy="771.2" rx="1.6" ry="1.6" fill="url(#cell)"/>
<ellipse cx="386.5" cy="783.1" rx="1.6" ry="1.6" fill="url(#cell)"/>
<ellipse cx="487.2" cy="773" rx="4" ry="3.5" fill="url(#cell)"/>
<circle cx="484.12" cy="772.54" r="0.59" fill="#b0a68e"/>
<circle cx="486.97" cy="775.68" r="0.51" fill="#c0b69c"/>
<circle cx="484.16" cy="772.47" r="0.48" fill="#8c8170"/>
<circle cx="488.62" cy="775.55" r="0.60" fill="#b0a68e"/>
<circle cx="490.02" cy="773.58" r="0.48" fill="#a39880"/>
<circle cx="487.29" cy="775.93" r="0.51" fill="#8c8170"/>
<circle cx="483.55" cy="772.05" r="0.52" fill="#c0b69c"/>
<circle cx="490.42" cy="772.69" r="0.45" fill="#a39880"/>
<circle cx="485.51" cy="775.10" r="0.35" fill="#a39880"/>
<circle cx="484.52" cy="770.65" r="0.39" fill="#8c8170"/>
<circle cx="490.44" cy="774.66" r="0.50" fill="#c0b69c"/>
<circle cx="486.17" cy="770.60" r="0.39" fill="#a39880"/>
<circle cx="484.23" cy="773.92" r="0.59" fill="#c0b69c"/>
<circle cx="484.20" cy="772.20" r="0.40" fill="#c0b69c"/>
<circle cx="488.52" cy="775.58" r="0.47" fill="#b0a68e"/>
<circle cx="484.11" cy="772.95" r="0.37" fill="#b0a68e"/>
<circle cx="487.34" cy="772.72" r="0.41" fill="#55493a"/>
<circle cx="487.92" cy="773.09" r="0.43" fill="#4e4434"/>
<circle cx="489.18" cy="772.53" r="0.60" fill="#4e4434"/>
<circle cx="486.75" cy="771.20" r="0.63" fill="#7b6b50"/>
<circle cx="486.98" cy="771.98" r="0.62" fill="#7b6b50"/>
<circle cx="487.13" cy="772.93" r="0.67" fill="#55493a"/>
<circle cx="485.97" cy="771.89" r="0.44" fill="#55493a"/>
<circle cx="486.00" cy="772.84" r="0.65" fill="#4e4434"/>
</g>
<g clip-path="url(#q1)">
<ellipse cx="511.5" cy="729.8" rx="3" ry="2.5" fill="none" stroke="#c9b68a" stroke-width="0.9"/>
<ellipse cx="537.9" cy="738.9" rx="2" ry="3" fill="none" stroke="#c9b68a" stroke-width="0.9"/>
<ellipse cx="538.3" cy="743.8" rx="1.8" ry="2" fill="none" stroke="#c9b68a" stroke-width="0.9"/>
<ellipse cx="580.8" cy="746.6" rx="3" ry="2" fill="none" stroke="#c9b68a" stroke-width="0.9"/>
</g>
<g clip-path="url(#q1)">
<ellipse cx="592.7" cy="753.3" rx="1.6" ry="1.6" fill="url(#cell)"/>
</g>
<g clip-path="url(#q2)">
<ellipse cx="420.7" cy="792.7" rx="4" ry="4" fill="url(#cell)"/>
<circle cx="417.41" cy="790.78" r="0.37" fill="#a39880"/>
<circle cx="424.12" cy="793.62" r="0.44" fill="#b0a68e"/>
<circle cx="417.90" cy="793.58" r="0.51" fill="#b0a68e"/>
<circle cx="419.27" cy="789.63" r="0.46" fill="#b0a68e"/>
<circle cx="424.18" cy="794.34" r="0.51" fill="#b0a68e"/>
<circle cx="424.04" cy="794.17" r="0.55" fill="#c0b69c"/>
<circle cx="422.47" cy="790.13" r="0.41" fill="#a39880"/>
<circle cx="418.72" cy="789.98" r="0.37" fill="#8c8170"/>
<circle cx="423.39" cy="791.00" r="0.50" fill="#b0a68e"/>
<circle cx="418.85" cy="790.39" r="0.43" fill="#a39880"/>
<circle cx="418.61" cy="789.77" r="0.35" fill="#a39880"/>
<circle cx="423.63" cy="793.88" r="0.52" fill="#b0a68e"/>
<circle cx="419.27" cy="789.86" r="0.47" fill="#c0b69c"/>
<circle cx="417.76" cy="793.33" r="0.43" fill="#a39880"/>
<circle cx="423.59" cy="794.43" r="0.46" fill="#c0b69c"/>
<circle cx="422.35" cy="789.18" r="0.60" fill="#8c8170"/>
<circle cx="417.80" cy="795.20" r="0.37" fill="#a39880"/>
<circle cx="422.21" cy="793.66" r="0.69" fill="#7b6b50"/>
<circle cx="422.02" cy="794.16" r="0.48" fill="#55493a"/>
<circle cx="421.37" cy="793.27" r="0.67" fill="#7b6b50"/>
<circle cx="420.64" cy="792.71" r="0.68" fill="#4e4434"/>
<circle cx="420.29" cy="791.82" r="0.44" fill="#55493a"/>
<circle cx="420.28" cy="793.33" r="0.40" fill="#7b6b50"/>
<circle cx="420.71" cy="790.69" r="0.68" fill="#4e4434"/>
<circle cx="420.71" cy="792.73" r="0.49" fill="#55493a"/>
<ellipse cx="404.8" cy="804.2" rx="6" ry="6" fill="url(#cell)"/>
<circle cx="401.37" cy="807.75" r="0.44" fill="#b0a68e"/>
<circle cx="400.53" cy="806.27" r="0.42" fill="#b0a68e"/>
<circle cx="409.87" cy="805.91" r="0.41" fill="#a39880"/>
<circle cx="404.30" cy="809.29" r="0.54" fill="#a39880"/>
<circle cx="405.89" cy="799.33" r="0.55" fill="#b0a68e"/>
<circle cx="400.89" cy="799.99" r="0.53" fill="#a39880"/>
<circle cx="410.00" cy="805.87" r="0.50" fill="#8c8170"/>
<circle cx="408.46" cy="808.54" r="0.36" fill="#8c8170"/>
<circle cx="408.85" cy="802.19" r="0.45" fill="#8c8170"/>
<circle cx="403.86" cy="808.83" r="0.45" fill="#c0b69c"/>
<circle cx="405.16" cy="809.26" r="0.38" fill="#8c8170"/>
<circle cx="402.04" cy="800.72" r="0.49" fill="#8c8170"/>
<circle cx="400.17" cy="805.61" r="0.46" fill="#8c8170"/>
<circle cx="400.31" cy="802.81" r="0.44" fill="#a39880"/>
<circle cx="408.75" cy="806.74" r="0.55" fill="#c0b69c"/>
<circle cx="406.09" cy="808.36" r="0.45" fill="#8c8170"/>
<circle cx="404.68" cy="799.55" r="0.43" fill="#c0b69c"/>
<circle cx="409.20" cy="806.01" r="0.38" fill="#c0b69c"/>
<circle cx="399.50" cy="804.09" r="0.37" fill="#a39880"/>
<circle cx="408.72" cy="801.23" r="0.46" fill="#8c8170"/>
<circle cx="402.68" cy="809.37" r="0.38" fill="#b0a68e"/>
<circle cx="399.89" cy="806.70" r="0.59" fill="#8c8170"/>
<circle cx="400.37" cy="804.48" r="0.59" fill="#8c8170"/>
<circle cx="404.84" cy="808.69" r="0.39" fill="#a39880"/>
<circle cx="409.22" cy="803.41" r="0.37" fill="#8c8170"/>
<circle cx="405.53" cy="799.94" r="0.41" fill="#a39880"/>
<circle cx="406.84" cy="803.08" r="0.69" fill="#7b6b50"/>
<circle cx="403.47" cy="802.84" r="0.61" fill="#7b6b50"/>
<circle cx="404.99" cy="804.36" r="0.68" fill="#55493a"/>
<circle cx="405.14" cy="805.08" r="0.40" fill="#55493a"/>
<circle cx="401.31" cy="803.36" r="0.69" fill="#7b6b50"/>
<circle cx="402.84" cy="801.69" r="0.56" fill="#7b6b50"/>
<circle cx="404.70" cy="804.17" r="0.61" fill="#7b6b50"/>
<circle cx="404.77" cy="804.27" r="0.67" fill="#7b6b50"/>
<circle cx="404.62" cy="803.97" r="0.60" fill="#4e4434"/>
<circle cx="405.53" cy="803.83" r="0.61" fill="#4e4434"/>
<circle cx="404.54" cy="802.92" r="0.46" fill="#7b6b50"/>
<circle cx="405.58" cy="801.65" r="0.42" fill="#55493a"/>
<circle cx="404.08" cy="804.22" r="0.47" fill="#4e4434"/>
<ellipse cx="432.2" cy="803.2" rx="5" ry="5" fill="url(#cell)"/>
<circle cx="433.02" cy="807.71" r="0.38" fill="#c0b69c"/>
<circle cx="429.07" cy="800.12" r="0.47" fill="#a39880"/>
<circle cx="435.31" cy="801.24" r="0.58" fill="#a39880"/>
<circle cx="435.62" cy="804.42" r="0.45" fill="#a39880"/>
<circle cx="431.24" cy="799.48" r="0.57" fill="#8c8170"/>
<circle cx="435.59" cy="800.16" r="0.58" fill="#b0a68e"/>
<circle cx="430.37" cy="806.57" r="0.36" fill="#8c8170"/>
<circle cx="430.10" cy="799.69" r="0.60" fill="#c0b69c"/>
<circle cx="428.70" cy="804.52" r="0.42" fill="#b0a68e"/>
<circle cx="429.32" cy="807.09" r="0.49" fill="#b0a68e"/>
<circle cx="432.43" cy="799.11" r="0.56" fill="#c0b69c"/>
<circle cx="428.86" cy="804.71" r="0.40" fill="#8c8170"/>
<circle cx="428.16" cy="802.12" r="0.44" fill="#c0b69c"/>
<circle cx="435.10" cy="801.01" r="0.41" fill="#8c8170"/>
<circle cx="429.29" cy="800.27" r="0.36" fill="#8c8170"/>
<circle cx="436.63" cy="805.04" r="0.40" fill="#c0b69c"/>
<circle cx="436.25" cy="804.89" r="0.42" fill="#c0b69c"/>
<circle cx="436.45" cy="802.04" r="0.54" fill="#c0b69c"/>
<circle cx="430.42" cy="798.74" r="0.35" fill="#c0b69c"/>
<circle cx="432.37" cy="798.41" r="0.36" fill="#b0a68e"/>
<circle cx="432.63" cy="807.40" r="0.59" fill="#8c8170"/>
<circle cx="429.23" cy="805.77" r="0.55" fill="#8c8170"/>
<circle cx="433.20" cy="804.30" r="0.64" fill="#4e4434"/>
<circle cx="432.02" cy="800.74" r="0.58" fill="#4e4434"/>
<circle cx="431.75" cy="804.05" r="0.64" fill="#7b6b50"/>
<circle cx="430.93" cy="802.33" r="0.63" fill="#7b6b50"/>
<circle cx="432.20" cy="803.39" r="0.54" fill="#4e4434"/>
<circle cx="431.74" cy="803.07" r="0.67" fill="#7b6b50"/>
<circle cx="432.99" cy="803.14" r="0.46" fill="#4e4434"/>
<circle cx="429.59" cy="804.61" r="0.45" fill="#7b6b50"/>
<circle cx="433.13" cy="804.23" r="0.47" fill="#55493a"/>
<circle cx="429.95" cy="802.64" r="0.63" fill="#4e4434"/>
<circle cx="431.97" cy="804.01" r="0.51" fill="#7b6b50"/>
<ellipse cx="399.3" cy="826.1" rx="6" ry="6" fill="url(#cell)"/>
<circle cx="398.95" cy="821.48" r="0.40" fill="#a39880"/>
<circle cx="399.73" cy="830.84" r="0.43" fill="#a39880"/>
<circle cx="394.64" cy="829.67" r="0.51" fill="#a39880"/>
<circle cx="403.37" cy="829.08" r="0.38" fill="#b0a68e"/>
<circle cx="393.77" cy="826.98" r="0.58" fill="#8c8170"/>
<circle cx="403.93" cy="827.30" r="0.36" fill="#b0a68e"/>
<circle cx="394.77" cy="822.79" r="0.58" fill="#a39880"/>
<circle cx="395.36" cy="830.18" r="0.50" fill="#8c8170"/>
<circle cx="400.14" cy="820.81" r="0.38" fill="#b0a68e"/>
<circle cx="394.95" cy="823.10" r="0.36" fill="#a39880"/>
<circle cx="396.95" cy="829.81" r="0.36" fill="#c0b69c"/>
<circle cx="398.66" cy="820.39" r="0.55" fill="#b0a68e"/>
<circle cx="395.18" cy="828.75" r="0.37" fill="#c0b69c"/>
<circle cx="404.29" cy="827.10" r="0.37" fill="#8c8170"/>
<circle cx="403.27" cy="829.04" r="0.51" fill="#a39880"/>
<circle cx="403.15" cy="828.58" r="0.45" fill="#c0b69c"/>
<circle cx="398.30" cy="830.80" r="0.43" fill="#b0a68e"/>
<circle cx="394.84" cy="824.12" r="0.35" fill="#8c8170"/>
<circle cx="399.88" cy="820.56" r="0.45" fill="#a39880"/>
<circle cx="394.51" cy="829.35" r="0.58" fill="#8c8170"/>
<circle cx="394.33" cy="828.68" r="0.49" fill="#8c8170"/>
<circle cx="395.65" cy="830.25" r="0.35" fill="#a39880"/>
<circle cx="394.26" cy="824.41" r="0.37" fill="#8c8170"/>
<circle cx="395.78" cy="822.70" r="0.39" fill="#a39880"/>
<circle cx="398.23" cy="831.12" r="0.38" fill="#b0a68e"/>
<circle cx="393.73" cy="826.43" r="0.43" fill="#a39880"/>
<circle cx="399.38" cy="825.97" r="0.49" fill="#7b6b50"/>
<circle cx="397.51" cy="824.67" r="0.67" fill="#4e4434"/>
<circle cx="397.14" cy="824.06" r="0.59" fill="#4e4434"/>
<circle cx="400.69" cy="824.35" r="0.65" fill="#55493a"/>
<circle cx="399.61" cy="825.52" r="0.41" fill="#4e4434"/>
<circle cx="399.82" cy="825.89" r="0.44" fill="#7b6b50"/>
<circle cx="399.35" cy="828.71" r="0.41" fill="#4e4434"/>
<circle cx="396.78" cy="825.06" r="0.60" fill="#4e4434"/>
<circle cx="398.67" cy="827.35" r="0.57" fill="#7b6b50"/>
<circle cx="398.53" cy="825.31" r="0.49" fill="#7b6b50"/>
<circle cx="399.31" cy="827.50" r="0.53" fill="#7b6b50"/>
<circle cx="399.22" cy="826.13" r="0.70" fill="#55493a"/>
<circle cx="397.73" cy="826.45" r="0.63" fill="#55493a"/>
<ellipse cx="413.9" cy="833.4" rx="1.6" ry="1.6" fill="url(#cell)"/>
<ellipse cx="469" cy="841.2" rx="6.2" ry="6" fill="url(#cell)"/>
<circle cx="464.41" cy="842.39" r="0.45" fill="#8c8170"/>
<circle cx="473.60" cy="843.20" r="0.37" fill="#c0b69c"/>
<circle cx="464.06" cy="843.02" r="0.36" fill="#b0a68e"/>
<circle cx="473.07" cy="845.40" r="0.54" fill="#c0b69c"/>
<circle cx="464.46" cy="840.88" r="0.51" fill="#8c8170"/>
<circle cx="469.96" cy="836.94" r="0.60" fill="#b0a68e"/>
<circle cx="468.35" cy="835.64" r="0.38" fill="#a39880"/>
<circle cx="472.71" cy="838.06" r="0.52" fill="#a39880"/>
<circle cx="468.13" cy="836.61" r="0.50" fill="#c0b69c"/>
<circle cx="468.93" cy="846.02" r="0.58" fill="#c0b69c"/>
<circle cx="464.31" cy="842.48" r="0.40" fill="#8c8170"/>
<circle cx="468.57" cy="846.29" r="0.44" fill="#c0b69c"/>
<circle cx="470.61" cy="845.90" r="0.52" fill="#c0b69c"/>
<circle cx="472.75" cy="838.40" r="0.38" fill="#c0b69c"/>
<circle cx="463.61" cy="840.18" r="0.59" fill="#c0b69c"/>
<circle cx="463.92" cy="842.69" r="0.41" fill="#b0a68e"/>
<circle cx="463.30" cy="839.94" r="0.42" fill="#c0b69c"/>
<circle cx="474.39" cy="840.89" r="0.43" fill="#c0b69c"/>
<circle cx="473.22" cy="843.49" r="0.42" fill="#b0a68e"/>
<circle cx="464.06" cy="840.71" r="0.53" fill="#c0b69c"/>
<circle cx="468.91" cy="836.54" r="0.50" fill="#c0b69c"/>
<circle cx="464.18" cy="843.31" r="0.38" fill="#b0a68e"/>
<circle cx="469.79" cy="846.48" r="0.36" fill="#b0a68e"/>
<circle cx="464.48" cy="839.24" r="0.48" fill="#c0b69c"/>
<circle cx="464.77" cy="843.68" r="0.40" fill="#a39880"/>
<circle cx="465.28" cy="837.65" r="0.35" fill="#a39880"/>
<circle cx="469.84" cy="838.79" r="0.43" fill="#7b6b50"/>
<circle cx="466.91" cy="838.81" r="0.52" fill="#7b6b50"/>
<circle cx="469.00" cy="841.24" r="0.65" fill="#55493a"/>
<circle cx="470.73" cy="839.86" r="0.53" fill="#55493a"/>
<circle cx="471.52" cy="840.18" r="0.45" fill="#4e4434"/>
<circle cx="469.23" cy="841.20" r="0.52" fill="#4e4434"/>
<circle cx="469.02" cy="841.41" r="0.40" fill="#4e4434"/>
<circle cx="465.68" cy="840.13" r="0.52" fill="#4e4434"/>
<circle cx="466.62" cy="840.94" r="0.59" fill="#55493a"/>
<circle cx="469.25" cy="840.62" r="0.42" fill="#7b6b50"/>
<circle cx="466.40" cy="838.65" r="0.63" fill="#55493a"/>
<circle cx="468.99" cy="841.18" r="0.62" fill="#7b6b50"/>
<circle cx="466.31" cy="841.78" r="0.45" fill="#7b6b50"/>
<ellipse cx="391.5" cy="853.4" rx="7" ry="7" fill="url(#cell)"/>
<circle cx="397.01" cy="853.28" r="0.38" fill="#b0a68e"/>
<circle cx="396.71" cy="849.16" r="0.53" fill="#c0b69c"/>
<circle cx="390.89" cy="859.42" r="0.52" fill="#8c8170"/>
<circle cx="397.41" cy="850.02" r="0.51" fill="#c0b69c"/>
<circle cx="396.81" cy="852.22" r="0.39" fill="#b0a68e"/>
<circle cx="396.93" cy="849.70" r="0.59" fill="#a39880"/>
<circle cx="391.36" cy="847.77" r="0.43" fill="#8c8170"/>
<circle cx="391.96" cy="860.08" r="0.47" fill="#8c8170"/>
<circle cx="386.54" cy="852.43" r="0.46" fill="#b0a68e"/>
<circle cx="390.53" cy="847.40" r="0.55" fill="#c0b69c"/>
<circle cx="386.76" cy="857.25" r="0.39" fill="#a39880"/>
<circle cx="396.66" cy="854.28" r="0.44" fill="#a39880"/>
<circle cx="394.70" cy="857.36" r="0.38" fill="#b0a68e"/>
<circle cx="388.33" cy="849.39" r="0.53" fill="#b0a68e"/>
<circle cx="397.10" cy="855.86" r="0.40" fill="#c0b69c"/>
<circle cx="397.27" cy="851.71" r="0.57" fill="#b0a68e"/>
<circle cx="391.73" cy="847.07" r="0.38" fill="#8c8170"/>
<circle cx="392.94" cy="858.44" r="0.59" fill="#b0a68e"/>
<circle cx="396.94" cy="850.00" r="0.56" fill="#b0a68e"/>
<circle cx="387.73" cy="849.31" r="0.38" fill="#b0a68e"/>
<circle cx="393.12" cy="847.40" r="0.43" fill="#c0b69c"/>
<circle cx="386.99" cy="855.74" r="0.58" fill="#c0b69c"/>
<circle cx="397.63" cy="855.32" r="0.54" fill="#c0b69c"/>
<circle cx="386.77" cy="849.87" r="0.50" fill="#c0b69c"/>
<circle cx="397.18" cy="854.52" r="0.48" fill="#8c8170"/>
<circle cx="396.30" cy="856.81" r="0.48" fill="#b0a68e"/>
<circle cx="392.88" cy="859.86" r="0.49" fill="#b0a68e"/>
<circle cx="390.15" cy="859.08" r="0.42" fill="#a39880"/>
<circle cx="391.52" cy="848.26" r="0.47" fill="#c0b69c"/>
<circle cx="385.02" cy="853.75" r="0.59" fill="#a39880"/>
<circle cx="388.14" cy="851.19" r="0.48" fill="#55493a"/>
<circle cx="392.62" cy="852.99" r="0.68" fill="#4e4434"/>
<circle cx="391.58" cy="854.09" r="0.63" fill="#55493a"/>
<circle cx="387.35" cy="853.65" r="0.64" fill="#55493a"/>
<circle cx="390.46" cy="852.32" r="0.68" fill="#7b6b50"/>
<circle cx="393.93" cy="851.43" r="0.67" fill="#7b6b50"/>
<circle cx="392.35" cy="853.54" r="0.53" fill="#7b6b50"/>
<circle cx="390.81" cy="853.20" r="0.47" fill="#55493a"/>
<circle cx="389.33" cy="853.94" r="0.63" fill="#55493a"/>
<circle cx="390.61" cy="852.24" r="0.56" fill="#7b6b50"/>
<circle cx="392.78" cy="852.01" r="0.62" fill="#55493a"/>
<circle cx="392.39" cy="855.01" r="0.57" fill="#7b6b50"/>
<circle cx="392.86" cy="854.78" r="0.47" fill="#55493a"/>
<circle cx="391.95" cy="854.58" r="0.65" fill="#55493a"/>
<circle cx="389.25" cy="851.36" r="0.62" fill="#4e4434"/>
<ellipse cx="385.1" cy="863.5" rx="5" ry="5" fill="url(#cell)"/>
<circle cx="381.86" cy="861.06" r="0.43" fill="#a39880"/>
<circle cx="386.91" cy="868.02" r="0.39" fill="#b0a68e"/>
<circle cx="382.99" cy="860.27" r="0.60" fill="#a39880"/>
<circle cx="386.37" cy="859.13" r="0.42" fill="#8c8170"/>
<circle cx="388.80" cy="866.53" r="0.40" fill="#c0b69c"/>
<circle cx="382.32" cy="865.85" r="0.56" fill="#8c8170"/>
<circle cx="381.52" cy="865.01" r="0.47" fill="#c0b69c"/>
<circle cx="387.86" cy="866.91" r="0.35" fill="#8c8170"/>
<circle cx="385.33" cy="868.20" r="0.56" fill="#8c8170"/>
<circle cx="382.91" cy="859.63" r="0.52" fill="#a39880"/>
<circle cx="382.46" cy="860.25" r="0.41" fill="#c0b69c"/>
<circle cx="383.65" cy="858.96" r="0.55" fill="#a39880"/>
<circle cx="384.09" cy="859.20" r="0.56" fill="#c0b69c"/>
<circle cx="381.50" cy="863.89" r="0.48" fill="#8c8170"/>
<circle cx="382.59" cy="859.48" r="0.54" fill="#c0b69c"/>
<circle cx="381.86" cy="866.23" r="0.36" fill="#b0a68e"/>
<circle cx="381.43" cy="862.48" r="0.48" fill="#a39880"/>
<circle cx="388.60" cy="866.08" r="0.53" fill="#a39880"/>
<circle cx="380.68" cy="863.16" r="0.48" fill="#c0b69c"/>
<circle cx="381.01" cy="866.08" r="0.60" fill="#a39880"/>
<circle cx="386.82" cy="867.40" r="0.53" fill="#b0a68e"/>
<circle cx="381.76" cy="860.59" r="0.42" fill="#c0b69c"/>
<circle cx="385.07" cy="863.52" r="0.67" fill="#7b6b50"/>
<circle cx="383.70" cy="862.04" r="0.48" fill="#55493a"/>
<circle cx="385.46" cy="865.70" r="0.69" fill="#55493a"/>
<circle cx="387.98" cy="863.40" r="0.46" fill="#7b6b50"/>
<circle cx="386.70" cy="865.19" r="0.46" fill="#55493a"/>
<circle cx="383.74" cy="861.82" r="0.51" fill="#4e4434"/>
<circle cx="383.52" cy="861.62" r="0.54" fill="#7b6b50"/>
<circle cx="384.65" cy="865.08" r="0.63" fill="#4e4434"/>
<circle cx="382.79" cy="863.95" r="0.48" fill="#4e4434"/>
<circle cx="384.56" cy="864.03" r="0.60" fill="#7b6b50"/>
<circle cx="382.70" cy="863.78" r="0.51" fill="#7b6b50"/>
<ellipse cx="403" cy="862.6" rx="7" ry="7" fill="url(#cell)"/>
<circle cx="399.82" cy="857.96" r="0.46" fill="#8c8170"/>
<circle cx="398.94" cy="857.86" r="0.39" fill="#c0b69c"/>
<circle cx="401.12" cy="868.02" r="0.56" fill="#b0a68e"/>
<circle cx="408.37" cy="858.99" r="0.48" fill="#a39880"/>
<circle cx="399.57" cy="867.64" r="0.40" fill="#b0a68e"/>
<circle cx="408.01" cy="865.04" r="0.49" fill="#b0a68e"/>
<circle cx="406.27" cy="858.33" r="0.44" fill="#8c8170"/>
<circle cx="406.84" cy="868.07" r="0.50" fill="#a39880"/>
<circle cx="400.41" cy="856.29" r="0.52" fill="#b0a68e"/>
<circle cx="408.09" cy="858.60" r="0.40" fill="#c0b69c"/>
<circle cx="400.89" cy="856.98" r="0.52" fill="#8c8170"/>
<circle cx="406.90" cy="866.12" r="0.41" fill="#8c8170"/>
<circle cx="406.80" cy="867.16" r="0.47" fill="#b0a68e"/>
<circle cx="408.23" cy="859.07" r="0.47" fill="#a39880"/>
<circle cx="396.59" cy="860.97" r="0.39" fill="#b0a68e"/>
<circle cx="400.29" cy="868.29" r="0.52" fill="#8c8170"/>
<circle cx="406.08" cy="857.78" r="0.60" fill="#8c8170"/>
<circle cx="400.59" cy="857.80" r="0.51" fill="#c0b69c"/>
<circle cx="409.05" cy="863.70" r="0.55" fill="#c0b69c"/>
<circle cx="407.92" cy="865.90" r="0.36" fill="#a39880"/>
<circle cx="401.77" cy="856.55" r="0.37" fill="#c0b69c"/>
<circle cx="399.94" cy="857.84" r="0.42" fill="#a39880"/>
<circle cx="400.00" cy="867.21" r="0.56" fill="#b0a68e"/>
<circle cx="401.26" cy="868.91" r="0.43" fill="#8c8170"/>
<circle cx="409.60" cy="861.95" r="0.59" fill="#c0b69c"/>
<circle cx="399.34" cy="857.25" r="0.40" fill="#c0b69c"/>
<circle cx="401.79" cy="857.47" r="0.55" fill="#b0a68e"/>
<circle cx="409.16" cy="864.18" r="0.49" fill="#8c8170"/>
<circle cx="408.32" cy="864.32" r="0.36" fill="#b0a68e"/>
<circle cx="405.58" cy="857.29" r="0.55" fill="#b0a68e"/>
<circle cx="405.17" cy="861.22" r="0.44" fill="#55493a"/>
<circle cx="401.66" cy="860.03" r="0.42" fill="#55493a"/>
<circle cx="405.58" cy="863.25" r="0.63" fill="#55493a"/>
<circle cx="403.61" cy="863.05" r="0.53" fill="#4e4434"/>
<circle cx="406.15" cy="864.91" r="0.51" fill="#4e4434"/>
<circle cx="404.46" cy="859.63" r="0.61" fill="#55493a"/>
<circle cx="403.50" cy="862.01" r="0.50" fill="#4e4434"/>
<circle cx="400.56" cy="863.74" r="0.55" fill="#4e4434"/>
<circle cx="399.57" cy="862.12" r="0.57" fill="#7b6b50"/>
<circle cx="404.64" cy="861.68" r="0.60" fill="#4e4434"/>
<circle cx="399.53" cy="860.28" r="0.69" fill="#55493a"/>
<circle cx="401.29" cy="862.87" r="0.42" fill="#4e4434"/>
<circle cx="399.30" cy="863.25" r="0.40" fill="#55493a"/>
<circle cx="405.87" cy="862.69" r="0.70" fill="#4e4434"/>
<circle cx="403.58" cy="861.89" r="0.44" fill="#4e4434"/>
<ellipse cx="419.2" cy="859.8" rx="6" ry="8" fill="url(#cell)"/>
<circle cx="424.61" cy="860.61" r="0.46" fill="#a39880"/>
<circle cx="418.99" cy="852.13" r="0.54" fill="#c0b69c"/>
<circle cx="417.92" cy="852.46" r="0.42" fill="#b0a68e"/>
<circle cx="414.43" cy="857.40" r="0.58" fill="#c0b69c"/>
<circle cx="423.33" cy="861.69" r="0.35" fill="#b0a68e"/>
<circle cx="415.93" cy="853.75" r="0.45" fill="#b0a68e"/>
<circle cx="417.19" cy="866.27" r="0.50" fill="#8c8170"/>
<circle cx="416.85" cy="866.87" r="0.47" fill="#8c8170"/>
<circle cx="422.12" cy="866.52" r="0.44" fill="#b0a68e"/>
<circle cx="415.95" cy="854.22" r="0.47" fill="#8c8170"/>
<circle cx="420.08" cy="853.20" r="0.55" fill="#c0b69c"/>
<circle cx="414.84" cy="857.20" r="0.51" fill="#b0a68e"/>
<circle cx="415.95" cy="853.76" r="0.57" fill="#c0b69c"/>
<circle cx="418.54" cy="854.08" r="0.50" fill="#a39880"/>
<circle cx="417.40" cy="866.01" r="0.44" fill="#a39880"/>
<circle cx="417.11" cy="853.37" r="0.55" fill="#a39880"/>
<circle cx="418.30" cy="865.44" r="0.42" fill="#c0b69c"/>
<circle cx="422.37" cy="866.21" r="0.42" fill="#b0a68e"/>
<circle cx="422.82" cy="865.69" r="0.42" fill="#a39880"/>
<circle cx="422.51" cy="853.81" r="0.44" fill="#8c8170"/>
<circle cx="423.66" cy="863.32" r="0.40" fill="#8c8170"/>
<circle cx="419.21" cy="852.10" r="0.43" fill="#a39880"/>
<circle cx="423.82" cy="862.13" r="0.58" fill="#a39880"/>
<circle cx="415.49" cy="856.81" r="0.46" fill="#8c8170"/>
<circle cx="423.95" cy="863.69" r="0.41" fill="#b0a68e"/>
<circle cx="414.18" cy="856.14" r="0.47" fill="#c0b69c"/>
<circle cx="415.29" cy="856.52" r="0.37" fill="#a39880"/>
<circle cx="420.84" cy="853.83" r="0.45" fill="#c0b69c"/>
<circle cx="414.67" cy="859.14" r="0.58" fill="#b0a68e"/>
<circle cx="413.53" cy="860.12" r="0.51" fill="#c0b69c"/>
<circle cx="419.33" cy="859.07" r="0.41" fill="#55493a"/>
<circle cx="418.78" cy="862.66" r="0.41" fill="#4e4434"/>
<circle cx="422.31" cy="859.55" r="0.58" fill="#7b6b50"/>
<circle cx="419.96" cy="864.13" r="0.53" fill="#7b6b50"/>
<circle cx="421.81" cy="858.59" r="0.69" fill="#55493a"/>
<circle cx="419.20" cy="859.98" r="0.70" fill="#4e4434"/>
<circle cx="419.13" cy="859.89" r="0.57" fill="#4e4434"/>
<circle cx="420.33" cy="858.20" r="0.66" fill="#4e4434"/>
<circle cx="417.08" cy="856.39" r="0.69" fill="#55493a"/>
<circle cx="419.11" cy="862.51" r="0.43" fill="#55493a"/>
<circle cx="420.80" cy="858.64" r="0.53" fill="#4e4434"/>
<circle cx="421.07" cy="863.71" r="0.47" fill="#55493a"/>
<circle cx="420.09" cy="860.10" r="0.42" fill="#7b6b50"/>
<circle cx="419.11" cy="859.76" r="0.48" fill="#4e4434"/>
<circle cx="416.55" cy="859.50" r="0.42" fill="#7b6b50"/>
<ellipse cx="410.6" cy="869.9" rx="4" ry="4" fill="url(#cell)"/>
<circle cx="412.85" cy="872.79" r="0.52" fill="#a39880"/>
<circle cx="409.55" cy="873.23" r="0.47" fill="#b0a68e"/>
<circle cx="408.33" cy="872.27" r="0.47" fill="#c0b69c"/>
<circle cx="412.13" cy="872.63" r="0.58" fill="#a39880"/>
<circle cx="413.22" cy="867.79" r="0.55" fill="#a39880"/>
<circle cx="412.67" cy="873.02" r="0.58" fill="#b0a68e"/>
<circle cx="413.15" cy="867.07" r="0.54" fill="#a39880"/>
<circle cx="414.31" cy="868.90" r="0.56" fill="#8c8170"/>
<circle cx="408.28" cy="867.48" r="0.43" fill="#c0b69c"/>
<circle cx="410.90" cy="872.88" r="0.39" fill="#c0b69c"/>
<circle cx="411.12" cy="872.79" r="0.49" fill="#8c8170"/>
<circle cx="412.93" cy="872.89" r="0.45" fill="#c0b69c"/>
<circle cx="410.66" cy="872.81" r="0.43" fill="#c0b69c"/>
<circle cx="412.27" cy="872.85" r="0.46" fill="#c0b69c"/>
<circle cx="407.58" cy="870.23" r="0.51" fill="#b0a68e"/>
<circle cx="411.50" cy="866.16" r="0.56" fill="#8c8170"/>
<circle cx="413.28" cy="872.40" r="0.46" fill="#c0b69c"/>
<circle cx="410.56" cy="870.47" r="0.43" fill="#4e4434"/>
<circle cx="410.07" cy="871.99" r="0.65" fill="#4e4434"/>
<circle cx="410.94" cy="869.85" r="0.40" fill="#55493a"/>
<circle cx="410.89" cy="869.13" r="0.53" fill="#4e4434"/>
<circle cx="411.16" cy="867.70" r="0.46" fill="#7b6b50"/>
<circle cx="408.59" cy="870.77" r="0.48" fill="#4e4434"/>
<circle cx="411.45" cy="871.74" r="0.63" fill="#55493a"/>
<circle cx="410.49" cy="869.44" r="0.65" fill="#4e4434"/>
<ellipse cx="438.9" cy="857.1" rx="5" ry="5.5" fill="url(#cell)"/>
<circle cx="442.39" cy="853.89" r="0.39" fill="#c0b69c"/>
<circle cx="441.81" cy="860.83" r="0.50" fill="#a39880"/>
<circle cx="439.99" cy="860.97" r="0.56" fill="#8c8170"/>
<circle cx="442.60" cy="854.74" r="0.43" fill="#c0b69c"/>
<circle cx="441.48" cy="852.75" r="0.37" fill="#8c8170"/>
<circle cx="435.03" cy="859.82" r="0.57" fill="#a39880"/>
<circle cx="438.51" cy="861.30" r="0.36" fill="#c0b69c"/>
<circle cx="437.62" cy="852.53" r="0.44" fill="#b0a68e"/>
<circle cx="443.32" cy="854.89" r="0.38" fill="#b0a68e"/>
<circle cx="437.87" cy="852.10" r="0.54" fill="#c0b69c"/>
<circle cx="441.84" cy="853.57" r="0.42" fill="#b0a68e"/>
<circle cx="442.45" cy="860.23" r="0.48" fill="#8c8170"/>
<circle cx="434.68" cy="856.20" r="0.41" fill="#b0a68e"/>
<circle cx="442.64" cy="859.66" r="0.38" fill="#a39880"/>
<circle cx="438.89" cy="862.23" r="0.35" fill="#b0a68e"/>
<circle cx="442.98" cy="854.86" r="0.35" fill="#c0b69c"/>
<circle cx="435.37" cy="854.30" r="0.53" fill="#a39880"/>
<circle cx="442.68" cy="860.23" r="0.36" fill="#a39880"/>
<circle cx="441.94" cy="860.36" r="0.38" fill="#c0b69c"/>
<circle cx="442.33" cy="860.71" r="0.57" fill="#a39880"/>
<circle cx="441.51" cy="860.92" r="0.39" fill="#8c8170"/>
<circle cx="441.12" cy="852.39" r="0.52" fill="#8c8170"/>
<circle cx="435.31" cy="854.34" r="0.45" fill="#b0a68e"/>
<circle cx="441.07" cy="856.18" r="0.52" fill="#7b6b50"/>
<circle cx="440.03" cy="855.10" r="0.64" fill="#55493a"/>
<circle cx="440.99" cy="855.70" r="0.42" fill="#55493a"/>
<circle cx="436.04" cy="856.76" r="0.47" fill="#7b6b50"/>
<circle cx="437.22" cy="858.08" r="0.43" fill="#7b6b50"/>
<circle cx="439.27" cy="858.09" r="0.55" fill="#4e4434"/>
<circle cx="439.31" cy="857.16" r="0.63" fill="#7b6b50"/>
<circle cx="440.65" cy="856.29" r="0.41" fill="#4e4434"/>
<circle cx="438.40" cy="856.42" r="0.59" fill="#55493a"/>
<circle cx="437.22" cy="855.18" r="0.59" fill="#4e4434"/>
<circle cx="438.89" cy="858.82" r="0.47" fill="#7b6b50"/>
<ellipse cx="388.7" cy="878.1" rx="4" ry="3.5" fill="url(#cell)"/>
<circle cx="391.61" cy="878.74" r="0.51" fill="#c0b69c"/>
<circle cx="391.24" cy="880.20" r="0.37" fill="#c0b69c"/>
<circle cx="385.45" cy="876.29" r="0.38" fill="#8c8170"/>
<circle cx="390.86" cy="880.15" r="0.49" fill="#8c8170"/>
<circle cx="388.15" cy="881.25" r="0.56" fill="#c0b69c"/>
<circle cx="386.02" cy="876.16" r="0.40" fill="#8c8170"/>
<circle cx="387.87" cy="875.25" r="0.50" fill="#c0b69c"/>
<circle cx="385.56" cy="878.64" r="0.43" fill="#a39880"/>
<circle cx="389.99" cy="880.90" r="0.35" fill="#8c8170"/>
<circle cx="386.43" cy="880.74" r="0.43" fill="#a39880"/>
<circle cx="387.26" cy="880.56" r="0.42" fill="#a39880"/>
<circle cx="389.12" cy="875.46" r="0.50" fill="#b0a68e"/>
<circle cx="386.64" cy="880.65" r="0.56" fill="#8c8170"/>
<circle cx="386.46" cy="880.65" r="0.60" fill="#a39880"/>
<circle cx="387.01" cy="875.07" r="0.43" fill="#8c8170"/>
<circle cx="386.55" cy="880.61" r="0.56" fill="#c0b69c"/>
<circle cx="386.94" cy="877.93" r="0.68" fill="#55493a"/>
<circle cx="389.34" cy="878.08" r="0.61" fill="#55493a"/>
<circle cx="388.96" cy="877.96" r="0.40" fill="#4e4434"/>
<circle cx="388.84" cy="876.88" r="0.52" fill="#7b6b50"/>
<circle cx="389.06" cy="878.09" r="0.66" fill="#7b6b50"/>
<circle cx="387.99" cy="877.60" r="0.61" fill="#7b6b50"/>
<circle cx="388.50" cy="878.82" r="0.52" fill="#7b6b50"/>
<circle cx="387.83" cy="877.82" r="0.40" fill="#7b6b50"/>
<ellipse cx="429.8" cy="881.3" rx="3.5" ry="3" fill="url(#cell)"/>
<circle cx="429.71" cy="878.37" r="0.46" fill="#8c8170"/>
<circle cx="430.92" cy="883.50" r="0.46" fill="#a39880"/>
<circle cx="427.84" cy="882.93" r="0.43" fill="#c0b69c"/>
<circle cx="431.62" cy="878.96" r="0.40" fill="#c0b69c"/>
<circle cx="426.80" cy="882.58" r="0.36" fill="#b0a68e"/>
<circle cx="429.66" cy="884.16" r="0.58" fill="#c0b69c"/>
<circle cx="430.24" cy="878.75" r="0.48" fill="#8c8170"/>
<circle cx="426.67" cy="881.01" r="0.47" fill="#8c8170"/>
<circle cx="432.83" cy="881.98" r="0.59" fill="#8c8170"/>
<circle cx="428.46" cy="879.00" r="0.45" fill="#b0a68e"/>
<circle cx="426.69" cy="881.28" r="0.57" fill="#a39880"/>
<circle cx="432.69" cy="880.74" r="0.54" fill="#8c8170"/>
<circle cx="432.26" cy="879.75" r="0.39" fill="#b0a68e"/>
<circle cx="428.39" cy="883.96" r="0.48" fill="#c0b69c"/>
<circle cx="431.24" cy="882.33" r="0.50" fill="#55493a"/>
<circle cx="430.78" cy="880.94" r="0.59" fill="#7b6b50"/>
<circle cx="428.11" cy="881.08" r="0.55" fill="#4e4434"/>
<circle cx="429.95" cy="881.60" r="0.57" fill="#55493a"/>
<circle cx="430.74" cy="881.94" r="0.59" fill="#55493a"/>
<circle cx="430.63" cy="881.49" r="0.49" fill="#4e4434"/>
<circle cx="429.80" cy="881.29" r="0.52" fill="#7b6b50"/>
<ellipse cx="392.4" cy="846.1" rx="2" ry="2" fill="url(#cell)"/>
</g>
<g clip-path="url(#q3)">
<ellipse cx="572.2" cy="809.6" rx="2" ry="2" fill="url(#cell)"/>
<ellipse cx="603.6" cy="806.5" rx="1.5" ry="1.5" fill="url(#cell)"/>
<ellipse cx="511.1" cy="817.3" rx="1.5" ry="1.5" fill="url(#cell)"/>
<ellipse cx="528.8" cy="827" rx="5.5" ry="7" fill="url(#cell)"/>
<circle cx="532.04" cy="829.94" r="0.40" fill="#b0a68e"/>
<circle cx="524.05" cy="827.08" r="0.57" fill="#c0b69c"/>
<circle cx="532.52" cy="823.35" r="0.49" fill="#a39880"/>
<circle cx="525.29" cy="829.79" r="0.48" fill="#a39880"/>
<circle cx="524.81" cy="826.70" r="0.39" fill="#b0a68e"/>
<circle cx="523.71" cy="826.08" r="0.55" fill="#8c8170"/>
<circle cx="532.48" cy="828.93" r="0.39" fill="#c0b69c"/>
<circle cx="529.12" cy="832.53" r="0.42" fill="#b0a68e"/>
<circle cx="533.06" cy="830.91" r="0.44" fill="#b0a68e"/>
<circle cx="524.51" cy="828.78" r="0.41" fill="#b0a68e"/>
<circle cx="524.79" cy="830.91" r="0.46" fill="#b0a68e"/>
<circle cx="525.66" cy="823.23" r="0.39" fill="#b0a68e"/>
<circle cx="525.21" cy="824.22" r="0.57" fill="#b0a68e"/>
<circle cx="530.57" cy="821.88" r="0.59" fill="#c0b69c"/>
<circle cx="523.48" cy="827.19" r="0.52" fill="#a39880"/>
<circle cx="526.62" cy="821.56" r="0.43" fill="#8c8170"/>
<circle cx="532.10" cy="822.82" r="0.37" fill="#a39880"/>
<circle cx="530.97" cy="832.02" r="0.59" fill="#b0a68e"/>
<circle cx="527.60" cy="832.86" r="0.43" fill="#b0a68e"/>
<circle cx="531.87" cy="822.92" r="0.59" fill="#b0a68e"/>
<circle cx="524.15" cy="830.14" r="0.45" fill="#a39880"/>
<circle cx="524.44" cy="828.17" r="0.36" fill="#8c8170"/>
<circle cx="526.52" cy="822.14" r="0.41" fill="#a39880"/>
<circle cx="531.71" cy="830.93" r="0.49" fill="#a39880"/>
<circle cx="523.81" cy="828.33" r="0.39" fill="#a39880"/>
<circle cx="525.79" cy="832.07" r="0.51" fill="#8c8170"/>
<circle cx="524.97" cy="824.29" r="0.48" fill="#8c8170"/>
<circle cx="529.01" cy="828.88" r="0.68" fill="#4e4434"/>
<circle cx="530.77" cy="826.97" r="0.58" fill="#7b6b50"/>
<circle cx="528.25" cy="827.76" r="0.55" fill="#55493a"/>
<circle cx="530.55" cy="829.24" r="0.55" fill="#55493a"/>
<circle cx="527.94" cy="826.70" r="0.41" fill="#7b6b50"/>
<circle cx="528.71" cy="826.40" r="0.52" fill="#4e4434"/>
<circle cx="529.30" cy="827.38" r="0.50" fill="#4e4434"/>
<circle cx="528.61" cy="826.61" r="0.67" fill="#55493a"/>
<circle cx="529.65" cy="824.00" r="0.42" fill="#4e4434"/>
<circle cx="528.52" cy="827.88" r="0.65" fill="#4e4434"/>
<circle cx="527.85" cy="827.89" r="0.63" fill="#7b6b50"/>
<circle cx="530.91" cy="824.57" r="0.68" fill="#4e4434"/>
<circle cx="529.34" cy="828.38" r="0.61" fill="#55493a"/>
<ellipse cx="523" cy="837.9" rx="2" ry="2" fill="url(#cell)"/>
<ellipse cx="553.4" cy="852.5" rx="4" ry="4" fill="url(#cell)"/>
<circle cx="555.72" cy="850.75" r="0.41" fill="#8c8170"/>
<circle cx="555.25" cy="849.83" r="0.40" fill="#b0a68e"/>
<circle cx="556.27" cy="855.04" r="0.53" fill="#a39880"/>
<circle cx="556.23" cy="853.23" r="0.46" fill="#a39880"/>
<circle cx="553.53" cy="849.46" r="0.49" fill="#b0a68e"/>
<circle cx="550.75" cy="849.70" r="0.49" fill="#a39880"/>
<circle cx="552.75" cy="849.42" r="0.52" fill="#8c8170"/>
<circle cx="549.97" cy="850.74" r="0.56" fill="#b0a68e"/>
<circle cx="553.93" cy="849.37" r="0.57" fill="#b0a68e"/>
<circle cx="550.30" cy="850.66" r="0.52" fill="#a39880"/>
<circle cx="556.52" cy="853.24" r="0.54" fill="#c0b69c"/>
<circle cx="556.49" cy="854.36" r="0.60" fill="#8c8170"/>
<circle cx="551.07" cy="850.44" r="0.44" fill="#b0a68e"/>
<circle cx="556.57" cy="851.46" r="0.52" fill="#c0b69c"/>
<circle cx="553.13" cy="848.77" r="0.48" fill="#8c8170"/>
<circle cx="552.02" cy="849.73" r="0.47" fill="#a39880"/>
<circle cx="554.84" cy="856.09" r="0.39" fill="#c0b69c"/>
<circle cx="554.37" cy="854.11" r="0.56" fill="#4e4434"/>
<circle cx="553.40" cy="852.64" r="0.50" fill="#7b6b50"/>
<circle cx="554.68" cy="853.34" r="0.44" fill="#4e4434"/>
<circle cx="552.97" cy="850.95" r="0.61" fill="#4e4434"/>
<circle cx="555.06" cy="852.56" r="0.68" fill="#4e4434"/>
<circle cx="552.97" cy="853.08" r="0.44" fill="#55493a"/>
<circle cx="552.66" cy="852.19" r="0.56" fill="#4e4434"/>
<circle cx="553.43" cy="852.09" r="0.45" fill="#55493a"/>
<ellipse cx="599" cy="855.3" rx="7" ry="7" fill="url(#cell)"/>
<circle cx="605.51" cy="854.45" r="0.56" fill="#8c8170"/>
<circle cx="603.19" cy="858.97" r="0.47" fill="#c0b69c"/>
<circle cx="605.42" cy="857.10" r="0.40" fill="#c0b69c"/>
<circle cx="597.25" cy="849.71" r="0.39" fill="#b0a68e"/>
<circle cx="593.28" cy="857.36" r="0.39" fill="#c0b69c"/>
<circle cx="603.55" cy="857.51" r="0.37" fill="#8c8170"/>
<circle cx="597.60" cy="848.62" r="0.38" fill="#c0b69c"/>
<circle cx="593.18" cy="855.71" r="0.55" fill="#a39880"/>
<circle cx="596.52" cy="860.42" r="0.51" fill="#b0a68e"/>
<circle cx="594.32" cy="850.45" r="0.51" fill="#c0b69c"/>
<circle cx="604.64" cy="858.32" r="0.54" fill="#b0a68e"/>
<circle cx="601.98" cy="850.58" r="0.59" fill="#a39880"/>
<circle cx="592.42" cy="854.24" r="0.38" fill="#a39880"/>
<circle cx="597.91" cy="849.80" r="0.44" fill="#c0b69c"/>
<circle cx="595.58" cy="850.76" r="0.44" fill="#a39880"/>
<circle cx="593.58" cy="853.50" r="0.41" fill="#c0b69c"/>
<circle cx="604.87" cy="856.86" r="0.58" fill="#8c8170"/>
<circle cx="604.59" cy="853.29" r="0.53" fill="#8c8170"/>
<circle cx="605.13" cy="855.13" r="0.39" fill="#b0a68e"/>
<circle cx="599.75" cy="860.54" r="0.37" fill="#8c8170"/>
<circle cx="604.66" cy="856.75" r="0.40" fill="#a39880"/>
<circle cx="595.45" cy="858.96" r="0.39" fill="#8c8170"/>
<circle cx="603.62" cy="857.55" r="0.57" fill="#8c8170"/>
<circle cx="603.67" cy="857.24" r="0.58" fill="#a39880"/>
<circle cx="601.86" cy="860.09" r="0.55" fill="#8c8170"/>
<circle cx="596.25" cy="849.88" r="0.37" fill="#8c8170"/>
<circle cx="596.37" cy="860.56" r="0.59" fill="#a39880"/>
<circle cx="604.99" cy="853.83" r="0.53" fill="#b0a68e"/>
<circle cx="595.94" cy="860.74" r="0.59" fill="#8c8170"/>
<circle cx="592.83" cy="856.05" r="0.57" fill="#c0b69c"/>
<circle cx="596.39" cy="854.79" r="0.47" fill="#4e4434"/>
<circle cx="598.81" cy="852.40" r="0.60" fill="#4e4434"/>
<circle cx="597.31" cy="857.06" r="0.51" fill="#7b6b50"/>
<circle cx="599.11" cy="857.15" r="0.43" fill="#7b6b50"/>
<circle cx="600.58" cy="858.69" r="0.62" fill="#55493a"/>
<circle cx="599.63" cy="858.76" r="0.43" fill="#55493a"/>
<circle cx="597.96" cy="855.10" r="0.47" fill="#7b6b50"/>
<circle cx="596.80" cy="855.89" r="0.43" fill="#55493a"/>
<circle cx="596.54" cy="855.10" r="0.66" fill="#4e4434"/>
<circle cx="597.56" cy="852.26" r="0.66" fill="#4e4434"/>
<circle cx="596.15" cy="854.36" r="0.59" fill="#4e4434"/>
<circle cx="601.10" cy="854.77" r="0.65" fill="#7b6b50"/>
<circle cx="598.44" cy="855.75" r="0.57" fill="#4e4434"/>
<circle cx="599.09" cy="854.73" r="0.42" fill="#55493a"/>
<circle cx="599.13" cy="856.86" r="0.61" fill="#4e4434"/>
<ellipse cx="566.2" cy="869.3" rx="6" ry="6.5" fill="url(#cell)"/>
<circle cx="571.04" cy="867.80" r="0.53" fill="#b0a68e"/>
<circle cx="561.10" cy="872.07" r="0.49" fill="#a39880"/>
<circle cx="571.13" cy="866.25" r="0.44" fill="#a39880"/>
<circle cx="569.23" cy="864.23" r="0.56" fill="#b0a68e"/>
<circle cx="569.72" cy="873.00" r="0.53" fill="#c0b69c"/>
<circle cx="571.27" cy="870.84" r="0.44" fill="#b0a68e"/>
<circle cx="563.74" cy="874.34" r="0.58" fill="#b0a68e"/>
<circle cx="564.06" cy="864.74" r="0.52" fill="#a39880"/>
<circle cx="572.01" cy="870.15" r="0.38" fill="#8c8170"/>
<circle cx="570.65" cy="869.94" r="0.40" fill="#c0b69c"/>
<circle cx="561.70" cy="867.57" r="0.56" fill="#8c8170"/>
<circle cx="562.20" cy="866.61" r="0.59" fill="#c0b69c"/>
<circle cx="571.04" cy="869.76" r="0.47" fill="#a39880"/>
<circle cx="561.85" cy="869.78" r="0.37" fill="#b0a68e"/>
<circle cx="562.33" cy="865.34" r="0.56" fill="#8c8170"/>
<circle cx="571.49" cy="868.11" r="0.45" fill="#8c8170"/>
<circle cx="569.88" cy="865.21" r="0.44" fill="#b0a68e"/>
<circle cx="561.47" cy="868.38" r="0.50" fill="#a39880"/>
<circle cx="570.61" cy="870.65" r="0.53" fill="#c0b69c"/>
<circle cx="563.73" cy="874.07" r="0.43" fill="#c0b69c"/>
<circle cx="563.60" cy="874.02" r="0.36" fill="#a39880"/>
<circle cx="560.53" cy="870.90" r="0.51" fill="#b0a68e"/>
<circle cx="565.54" cy="864.43" r="0.42" fill="#8c8170"/>
<circle cx="561.47" cy="869.30" r="0.60" fill="#a39880"/>
<circle cx="571.28" cy="870.50" r="0.57" fill="#b0a68e"/>
<circle cx="567.01" cy="863.62" r="0.44" fill="#b0a68e"/>
<circle cx="565.10" cy="875.21" r="0.52" fill="#a39880"/>
<circle cx="565.29" cy="872.11" r="0.51" fill="#55493a"/>
<circle cx="566.73" cy="868.54" r="0.61" fill="#55493a"/>
<circle cx="564.92" cy="871.67" r="0.50" fill="#55493a"/>
<circle cx="567.93" cy="869.16" r="0.67" fill="#7b6b50"/>
<circle cx="567.50" cy="865.68" r="0.44" fill="#4e4434"/>
<circle cx="569.33" cy="869.45" r="0.52" fill="#7b6b50"/>
<circle cx="563.99" cy="871.13" r="0.58" fill="#4e4434"/>
<circle cx="567.80" cy="871.51" r="0.62" fill="#7b6b50"/>
<circle cx="563.00" cy="868.14" r="0.42" fill="#7b6b50"/>
<circle cx="567.42" cy="872.66" r="0.45" fill="#55493a"/>
<circle cx="563.09" cy="867.43" r="0.69" fill="#7b6b50"/>
<circle cx="565.25" cy="866.68" r="0.65" fill="#4e4434"/>
<circle cx="565.93" cy="869.92" r="0.56" fill="#7b6b50"/>
<ellipse cx="580.8" cy="868.4" rx="4.5" ry="6" fill="url(#cell)"/>
<circle cx="581.01" cy="863.11" r="0.53" fill="#a39880"/>
<circle cx="581.53" cy="873.25" r="0.57" fill="#a39880"/>
<circle cx="580.02" cy="873.40" r="0.40" fill="#b0a68e"/>
<circle cx="580.36" cy="862.61" r="0.37" fill="#b0a68e"/>
<circle cx="582.36" cy="863.11" r="0.53" fill="#c0b69c"/>
<circle cx="584.35" cy="868.55" r="0.51" fill="#b0a68e"/>
<circle cx="583.89" cy="866.23" r="0.57" fill="#c0b69c"/>
<circle cx="584.55" cy="869.26" r="0.39" fill="#c0b69c"/>
<circle cx="583.53" cy="864.19" r="0.51" fill="#b0a68e"/>
<circle cx="578.87" cy="872.79" r="0.41" fill="#8c8170"/>
<circle cx="577.63" cy="869.39" r="0.49" fill="#c0b69c"/>
<circle cx="584.10" cy="868.05" r="0.39" fill="#c0b69c"/>
<circle cx="584.26" cy="868.94" r="0.44" fill="#b0a68e"/>
<circle cx="578.45" cy="872.11" r="0.51" fill="#a39880"/>
<circle cx="577.89" cy="865.52" r="0.55" fill="#c0b69c"/>
<circle cx="577.56" cy="869.01" r="0.51" fill="#c0b69c"/>
<circle cx="576.93" cy="866.74" r="0.44" fill="#c0b69c"/>
<circle cx="577.30" cy="867.52" r="0.35" fill="#c0b69c"/>
<circle cx="576.84" cy="869.21" r="0.39" fill="#c0b69c"/>
<circle cx="578.24" cy="864.82" r="0.58" fill="#b0a68e"/>
<circle cx="578.40" cy="865.22" r="0.49" fill="#a39880"/>
<circle cx="582.60" cy="873.66" r="0.53" fill="#c0b69c"/>
<circle cx="584.29" cy="865.15" r="0.48" fill="#a39880"/>
<circle cx="579.67" cy="870.46" r="0.69" fill="#7b6b50"/>
<circle cx="579.08" cy="868.42" r="0.67" fill="#7b6b50"/>
<circle cx="580.36" cy="868.89" r="0.43" fill="#4e4434"/>
<circle cx="580.78" cy="868.17" r="0.67" fill="#55493a"/>
<circle cx="580.37" cy="867.28" r="0.57" fill="#4e4434"/>
<circle cx="578.71" cy="870.17" r="0.59" fill="#55493a"/>
<circle cx="580.91" cy="869.29" r="0.61" fill="#7b6b50"/>
<circle cx="580.85" cy="869.67" r="0.63" fill="#7b6b50"/>
<circle cx="580.30" cy="867.56" r="0.46" fill="#7b6b50"/>
<circle cx="580.42" cy="868.16" r="0.69" fill="#7b6b50"/>
<circle cx="581.33" cy="869.22" r="0.50" fill="#4e4434"/>
<ellipse cx="505.1" cy="871.7" rx="4" ry="4" fill="url(#cell)"/>
<circle cx="501.31" cy="872.05" r="0.43" fill="#a39880"/>
<circle cx="502.12" cy="869.23" r="0.49" fill="#a39880"/>
<circle cx="507.40" cy="869.62" r="0.36" fill="#c0b69c"/>
<circle cx="505.60" cy="868.40" r="0.57" fill="#8c8170"/>
<circle cx="508.29" cy="871.60" r="0.55" fill="#b0a68e"/>
<circle cx="507.31" cy="874.82" r="0.58" fill="#a39880"/>
<circle cx="507.23" cy="874.66" r="0.54" fill="#b0a68e"/>
<circle cx="501.89" cy="872.43" r="0.43" fill="#8c8170"/>
<circle cx="508.26" cy="869.92" r="0.59" fill="#c0b69c"/>
<circle cx="508.16" cy="872.34" r="0.36" fill="#b0a68e"/>
<circle cx="501.98" cy="871.61" r="0.52" fill="#8c8170"/>
<circle cx="504.71" cy="868.80" r="0.37" fill="#c0b69c"/>
<circle cx="508.08" cy="874.18" r="0.48" fill="#a39880"/>
<circle cx="508.21" cy="871.75" r="0.51" fill="#a39880"/>
<circle cx="501.35" cy="870.60" r="0.56" fill="#c0b69c"/>
<circle cx="507.95" cy="870.91" r="0.56" fill="#a39880"/>
<circle cx="508.17" cy="871.16" r="0.42" fill="#b0a68e"/>
<circle cx="505.38" cy="872.27" r="0.69" fill="#4e4434"/>
<circle cx="505.14" cy="871.81" r="0.69" fill="#55493a"/>
<circle cx="505.02" cy="872.48" r="0.60" fill="#4e4434"/>
<circle cx="503.83" cy="871.34" r="0.52" fill="#55493a"/>
<circle cx="506.89" cy="871.63" r="0.52" fill="#7b6b50"/>
<circle cx="504.68" cy="872.61" r="0.52" fill="#4e4434"/>
<circle cx="504.36" cy="872.35" r="0.67" fill="#4e4434"/>
<circle cx="504.72" cy="871.27" r="0.68" fill="#55493a"/>
<ellipse cx="532.8" cy="876.2" rx="2.5" ry="2.5" fill="url(#cell)"/>
</g>
</svg>
</body></html>
